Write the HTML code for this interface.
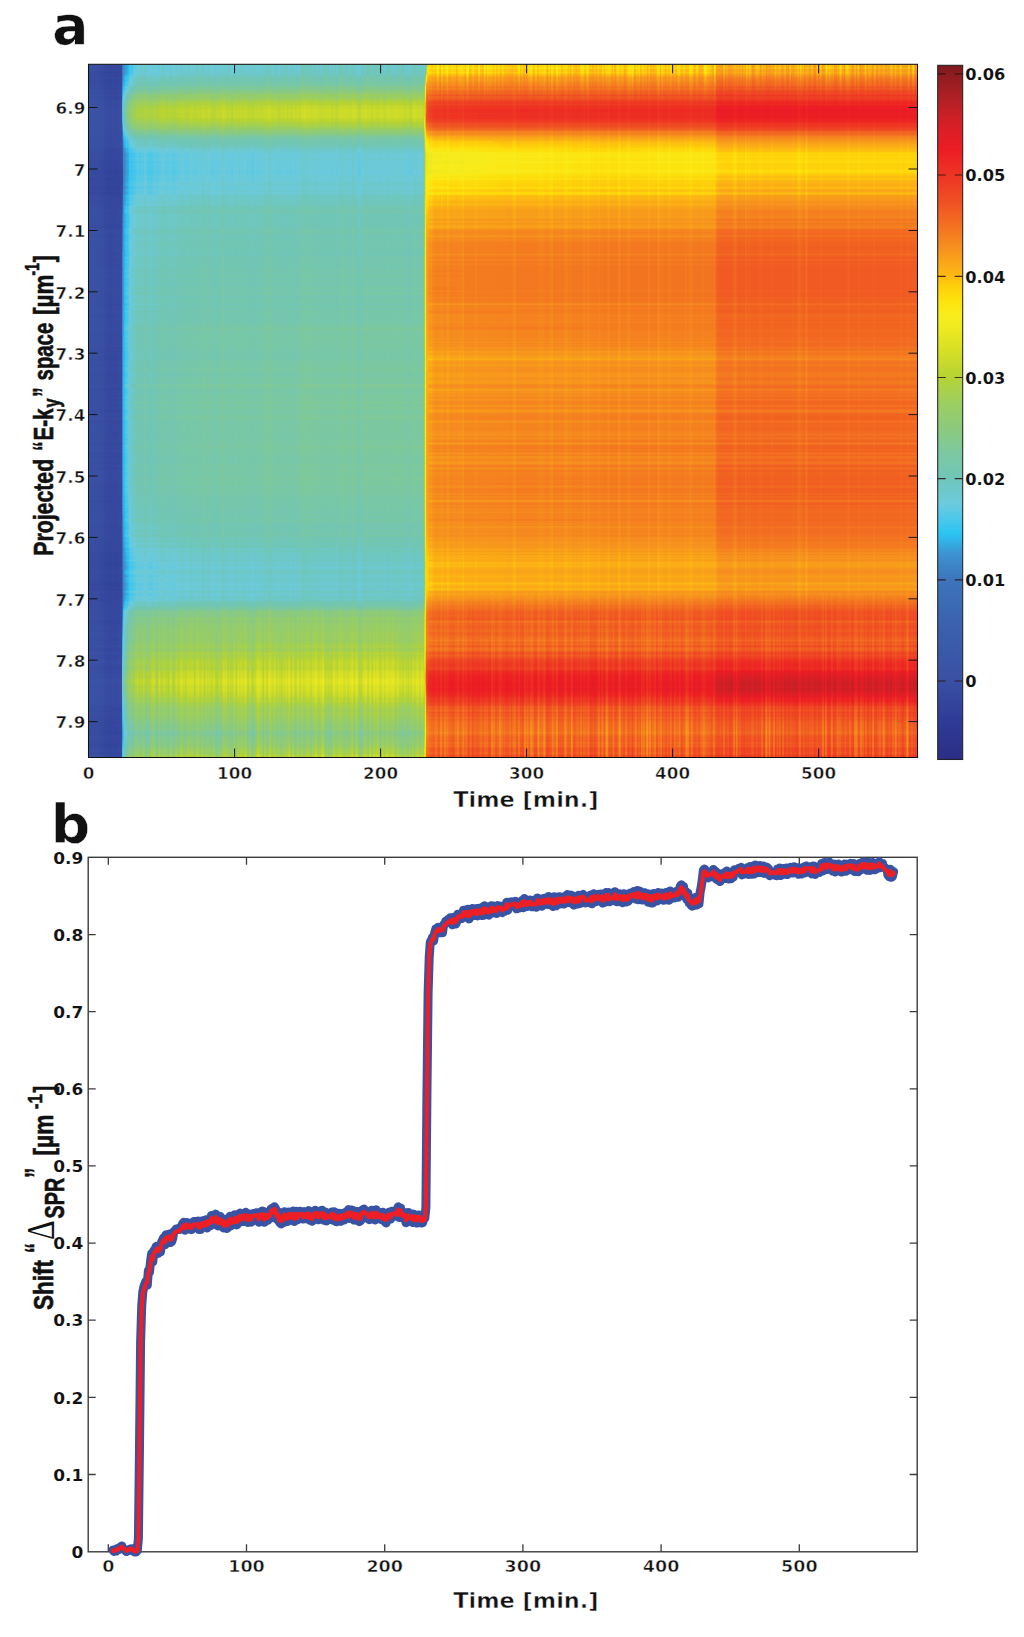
<!DOCTYPE html><html><head><meta charset="utf-8"><title>Figure</title><style>html,body{margin:0;padding:0;background:#fff}svg{display:block}</style></head><body><svg width="1024" height="1637" viewBox="0 0 1024 1637"><defs><linearGradient id="p1" x1="0" y1="0" x2="0" y2="1"><stop offset="0.0000" stop-color="#1d1d1d"/><stop offset="0.0087" stop-color="#1c1c1c"/><stop offset="0.0173" stop-color="#1a1a1a"/><stop offset="0.0260" stop-color="#1a1a1a"/><stop offset="0.0346" stop-color="#1c1c1c"/><stop offset="0.0433" stop-color="#1e1e1e"/><stop offset="0.0519" stop-color="#1f1f1f"/><stop offset="0.0606" stop-color="#1f1f1f"/><stop offset="0.0692" stop-color="#202020"/><stop offset="0.0952" stop-color="#202020"/><stop offset="0.1039" stop-color="#1f1f1f"/><stop offset="0.1125" stop-color="#1e1e1e"/><stop offset="0.1212" stop-color="#1d1d1d"/><stop offset="0.1298" stop-color="#1c1c1c"/><stop offset="0.1385" stop-color="#1b1b1b"/><stop offset="0.1471" stop-color="#1a1a1a"/><stop offset="0.1558" stop-color="#1a1a1a"/><stop offset="0.1645" stop-color="#191919"/><stop offset="0.1818" stop-color="#191919"/><stop offset="0.1904" stop-color="#1a1a1a"/><stop offset="0.1991" stop-color="#1b1b1b"/><stop offset="0.2077" stop-color="#1c1c1c"/><stop offset="0.2164" stop-color="#1d1d1d"/><stop offset="0.2337" stop-color="#1d1d1d"/><stop offset="0.2424" stop-color="#1e1e1e"/><stop offset="0.5972" stop-color="#1e1e1e"/><stop offset="0.6059" stop-color="#1d1d1d"/><stop offset="0.6665" stop-color="#1d1d1d"/><stop offset="0.6751" stop-color="#1c1c1c"/><stop offset="0.6838" stop-color="#1c1c1c"/><stop offset="0.6924" stop-color="#1b1b1b"/><stop offset="0.7011" stop-color="#1b1b1b"/><stop offset="0.7098" stop-color="#1a1a1a"/><stop offset="0.7444" stop-color="#1a1a1a"/><stop offset="0.7530" stop-color="#191919"/><stop offset="0.7617" stop-color="#1a1a1a"/><stop offset="0.7703" stop-color="#1a1a1a"/><stop offset="0.7790" stop-color="#1b1b1b"/><stop offset="0.7877" stop-color="#1c1c1c"/><stop offset="0.7963" stop-color="#1c1c1c"/><stop offset="0.8050" stop-color="#1d1d1d"/><stop offset="0.8136" stop-color="#1d1d1d"/><stop offset="0.8223" stop-color="#1e1e1e"/><stop offset="0.8829" stop-color="#1e1e1e"/><stop offset="0.8915" stop-color="#1f1f1f"/><stop offset="0.9175" stop-color="#1f1f1f"/><stop offset="0.9261" stop-color="#1e1e1e"/><stop offset="0.9348" stop-color="#1d1d1d"/><stop offset="0.9435" stop-color="#1c1c1c"/><stop offset="0.9521" stop-color="#1b1b1b"/><stop offset="0.9608" stop-color="#1a1a1a"/><stop offset="0.9694" stop-color="#1b1b1b"/><stop offset="0.9781" stop-color="#1b1b1b"/><stop offset="0.9867" stop-color="#1c1c1c"/><stop offset="0.9954" stop-color="#1d1d1d"/><stop offset="1.0012" stop-color="#1d1d1d"/></linearGradient><linearGradient id="p2" x1="0" y1="0" x2="0" y2="1"><stop offset="0.0000" stop-color="#646464"/><stop offset="0.0058" stop-color="#656565"/><stop offset="0.0115" stop-color="#676767"/><stop offset="0.0173" stop-color="#696969"/><stop offset="0.0231" stop-color="#6c6c6c"/><stop offset="0.0289" stop-color="#707070"/><stop offset="0.0346" stop-color="#767676"/><stop offset="0.0404" stop-color="#7d7d7d"/><stop offset="0.0462" stop-color="#858585"/><stop offset="0.0519" stop-color="#8b8b8b"/><stop offset="0.0577" stop-color="#909090"/><stop offset="0.0635" stop-color="#939393"/><stop offset="0.0692" stop-color="#959595"/><stop offset="0.0750" stop-color="#949494"/><stop offset="0.0808" stop-color="#919191"/><stop offset="0.0866" stop-color="#8c8c8c"/><stop offset="0.0923" stop-color="#848484"/><stop offset="0.0981" stop-color="#7c7c7c"/><stop offset="0.1039" stop-color="#737373"/><stop offset="0.1096" stop-color="#6c6c6c"/><stop offset="0.1154" stop-color="#686868"/><stop offset="0.1212" stop-color="#646464"/><stop offset="0.1269" stop-color="#636363"/><stop offset="0.1327" stop-color="#626262"/><stop offset="0.1385" stop-color="#616161"/><stop offset="0.1673" stop-color="#616161"/><stop offset="0.1731" stop-color="#626262"/><stop offset="0.1789" stop-color="#636363"/><stop offset="0.1847" stop-color="#646464"/><stop offset="0.1904" stop-color="#666666"/><stop offset="0.1962" stop-color="#676767"/><stop offset="0.2020" stop-color="#686868"/><stop offset="0.2077" stop-color="#696969"/><stop offset="0.2135" stop-color="#696969"/><stop offset="0.2193" stop-color="#6a6a6a"/><stop offset="0.2250" stop-color="#6a6a6a"/><stop offset="0.2308" stop-color="#6b6b6b"/><stop offset="0.2712" stop-color="#6b6b6b"/><stop offset="0.2770" stop-color="#6c6c6c"/><stop offset="0.3405" stop-color="#6c6c6c"/><stop offset="0.3462" stop-color="#6d6d6d"/><stop offset="0.3578" stop-color="#6d6d6d"/><stop offset="0.3635" stop-color="#6e6e6e"/><stop offset="0.3751" stop-color="#6e6e6e"/><stop offset="0.3808" stop-color="#6f6f6f"/><stop offset="0.3866" stop-color="#6f6f6f"/><stop offset="0.3924" stop-color="#707070"/><stop offset="0.4212" stop-color="#707070"/><stop offset="0.4270" stop-color="#717171"/><stop offset="0.4501" stop-color="#717171"/><stop offset="0.4559" stop-color="#727272"/><stop offset="0.6001" stop-color="#727272"/><stop offset="0.6059" stop-color="#717171"/><stop offset="0.6174" stop-color="#717171"/><stop offset="0.6232" stop-color="#707070"/><stop offset="0.6290" stop-color="#707070"/><stop offset="0.6347" stop-color="#6f6f6f"/><stop offset="0.6463" stop-color="#6f6f6f"/><stop offset="0.6520" stop-color="#6e6e6e"/><stop offset="0.6578" stop-color="#6e6e6e"/><stop offset="0.6636" stop-color="#6d6d6d"/><stop offset="0.6694" stop-color="#6c6c6c"/><stop offset="0.6751" stop-color="#6c6c6c"/><stop offset="0.6809" stop-color="#6b6b6b"/><stop offset="0.6867" stop-color="#6a6a6a"/><stop offset="0.6924" stop-color="#696969"/><stop offset="0.6982" stop-color="#686868"/><stop offset="0.7040" stop-color="#676767"/><stop offset="0.7098" stop-color="#666666"/><stop offset="0.7155" stop-color="#666666"/><stop offset="0.7213" stop-color="#656565"/><stop offset="0.7271" stop-color="#646464"/><stop offset="0.7675" stop-color="#646464"/><stop offset="0.7732" stop-color="#666666"/><stop offset="0.7790" stop-color="#6c6c6c"/><stop offset="0.7848" stop-color="#737373"/><stop offset="0.7905" stop-color="#7a7a7a"/><stop offset="0.7963" stop-color="#7e7e7e"/><stop offset="0.8021" stop-color="#808080"/><stop offset="0.8078" stop-color="#818181"/><stop offset="0.8136" stop-color="#838383"/><stop offset="0.8194" stop-color="#848484"/><stop offset="0.8252" stop-color="#868686"/><stop offset="0.8309" stop-color="#878787"/><stop offset="0.8367" stop-color="#898989"/><stop offset="0.8425" stop-color="#8b8b8b"/><stop offset="0.8482" stop-color="#8d8d8d"/><stop offset="0.8540" stop-color="#8f8f8f"/><stop offset="0.8598" stop-color="#909090"/><stop offset="0.8656" stop-color="#929292"/><stop offset="0.8713" stop-color="#949494"/><stop offset="0.8771" stop-color="#969696"/><stop offset="0.8829" stop-color="#979797"/><stop offset="0.8886" stop-color="#999999"/><stop offset="0.8944" stop-color="#9a9a9a"/><stop offset="0.9002" stop-color="#999999"/><stop offset="0.9059" stop-color="#969696"/><stop offset="0.9117" stop-color="#939393"/><stop offset="0.9175" stop-color="#909090"/><stop offset="0.9233" stop-color="#8d8d8d"/><stop offset="0.9290" stop-color="#8b8b8b"/><stop offset="0.9348" stop-color="#888888"/><stop offset="0.9406" stop-color="#868686"/><stop offset="0.9463" stop-color="#838383"/><stop offset="0.9521" stop-color="#808080"/><stop offset="0.9579" stop-color="#7d7d7d"/><stop offset="0.9636" stop-color="#7a7a7a"/><stop offset="0.9694" stop-color="#7a7a7a"/><stop offset="0.9752" stop-color="#7d7d7d"/><stop offset="0.9810" stop-color="#818181"/><stop offset="0.9867" stop-color="#858585"/><stop offset="0.9925" stop-color="#8a8a8a"/><stop offset="0.9983" stop-color="#8e8e8e"/><stop offset="1.0012" stop-color="#8f8f8f"/></linearGradient><linearGradient id="p3" x1="0" y1="0" x2="0" y2="1"><stop offset="0.0000" stop-color="#afafaf"/><stop offset="0.0058" stop-color="#b1b1b1"/><stop offset="0.0115" stop-color="#b4b4b4"/><stop offset="0.0173" stop-color="#b9b9b9"/><stop offset="0.0231" stop-color="#bdbdbd"/><stop offset="0.0289" stop-color="#c2c2c2"/><stop offset="0.0346" stop-color="#c6c6c6"/><stop offset="0.0404" stop-color="#cbcbcb"/><stop offset="0.0462" stop-color="#d0d0d0"/><stop offset="0.0519" stop-color="#d5d5d5"/><stop offset="0.0577" stop-color="#d8d8d8"/><stop offset="0.0635" stop-color="#dadada"/><stop offset="0.0692" stop-color="#dbdbdb"/><stop offset="0.0750" stop-color="#dadada"/><stop offset="0.0808" stop-color="#d8d8d8"/><stop offset="0.0866" stop-color="#d2d2d2"/><stop offset="0.0923" stop-color="#cbcbcb"/><stop offset="0.0981" stop-color="#c3c3c3"/><stop offset="0.1039" stop-color="#bbbbbb"/><stop offset="0.1096" stop-color="#b4b4b4"/><stop offset="0.1154" stop-color="#afafaf"/><stop offset="0.1212" stop-color="#acacac"/><stop offset="0.1269" stop-color="#aaaaaa"/><stop offset="0.1327" stop-color="#a8a8a8"/><stop offset="0.1443" stop-color="#a8a8a8"/><stop offset="0.1500" stop-color="#a9a9a9"/><stop offset="0.1558" stop-color="#aaaaaa"/><stop offset="0.1616" stop-color="#ababab"/><stop offset="0.1673" stop-color="#adadad"/><stop offset="0.1731" stop-color="#aeaeae"/><stop offset="0.1789" stop-color="#b0b0b0"/><stop offset="0.1847" stop-color="#b1b1b1"/><stop offset="0.1904" stop-color="#b3b3b3"/><stop offset="0.1962" stop-color="#b5b5b5"/><stop offset="0.2020" stop-color="#b6b6b6"/><stop offset="0.2077" stop-color="#b8b8b8"/><stop offset="0.2135" stop-color="#b9b9b9"/><stop offset="0.2193" stop-color="#bbbbbb"/><stop offset="0.2250" stop-color="#bcbcbc"/><stop offset="0.2308" stop-color="#bdbdbd"/><stop offset="0.2366" stop-color="#bebebe"/><stop offset="0.2424" stop-color="#bfbfbf"/><stop offset="0.2481" stop-color="#c0c0c0"/><stop offset="0.2539" stop-color="#c1c1c1"/><stop offset="0.2597" stop-color="#c2c2c2"/><stop offset="0.2654" stop-color="#c2c2c2"/><stop offset="0.2712" stop-color="#c3c3c3"/><stop offset="0.3405" stop-color="#c3c3c3"/><stop offset="0.3462" stop-color="#c2c2c2"/><stop offset="0.3635" stop-color="#c2c2c2"/><stop offset="0.3693" stop-color="#c1c1c1"/><stop offset="0.3808" stop-color="#c1c1c1"/><stop offset="0.3866" stop-color="#c0c0c0"/><stop offset="0.3982" stop-color="#c0c0c0"/><stop offset="0.4039" stop-color="#bfbfbf"/><stop offset="0.4097" stop-color="#bfbfbf"/><stop offset="0.4155" stop-color="#bebebe"/><stop offset="0.4212" stop-color="#bdbdbd"/><stop offset="0.4385" stop-color="#bdbdbd"/><stop offset="0.4443" stop-color="#bebebe"/><stop offset="0.4559" stop-color="#bebebe"/><stop offset="0.4616" stop-color="#bfbfbf"/><stop offset="0.4732" stop-color="#bfbfbf"/><stop offset="0.4789" stop-color="#c0c0c0"/><stop offset="0.4962" stop-color="#c0c0c0"/><stop offset="0.5020" stop-color="#c1c1c1"/><stop offset="0.5309" stop-color="#c1c1c1"/><stop offset="0.5366" stop-color="#c2c2c2"/><stop offset="0.6405" stop-color="#c2c2c2"/><stop offset="0.6463" stop-color="#c1c1c1"/><stop offset="0.6578" stop-color="#c1c1c1"/><stop offset="0.6636" stop-color="#c0c0c0"/><stop offset="0.6694" stop-color="#c0c0c0"/><stop offset="0.6751" stop-color="#bfbfbf"/><stop offset="0.6809" stop-color="#bebebe"/><stop offset="0.6867" stop-color="#bdbdbd"/><stop offset="0.6924" stop-color="#bcbcbc"/><stop offset="0.6982" stop-color="#bbbbbb"/><stop offset="0.7040" stop-color="#bababa"/><stop offset="0.7098" stop-color="#b9b9b9"/><stop offset="0.7155" stop-color="#b8b8b8"/><stop offset="0.7271" stop-color="#b8b8b8"/><stop offset="0.7328" stop-color="#b7b7b7"/><stop offset="0.7501" stop-color="#b7b7b7"/><stop offset="0.7559" stop-color="#b8b8b8"/><stop offset="0.7617" stop-color="#bababa"/><stop offset="0.7675" stop-color="#bcbcbc"/><stop offset="0.7732" stop-color="#c0c0c0"/><stop offset="0.7790" stop-color="#c4c4c4"/><stop offset="0.7848" stop-color="#c8c8c8"/><stop offset="0.7905" stop-color="#cbcbcb"/><stop offset="0.7963" stop-color="#cdcdcd"/><stop offset="0.8021" stop-color="#cdcdcd"/><stop offset="0.8078" stop-color="#cccccc"/><stop offset="0.8136" stop-color="#cbcbcb"/><stop offset="0.8367" stop-color="#cbcbcb"/><stop offset="0.8425" stop-color="#cdcdcd"/><stop offset="0.8482" stop-color="#d0d0d0"/><stop offset="0.8540" stop-color="#d2d2d2"/><stop offset="0.8598" stop-color="#d5d5d5"/><stop offset="0.8656" stop-color="#d8d8d8"/><stop offset="0.8713" stop-color="#dbdbdb"/><stop offset="0.8771" stop-color="#dedede"/><stop offset="0.8829" stop-color="#e1e1e1"/><stop offset="0.8886" stop-color="#e2e2e2"/><stop offset="0.8944" stop-color="#e4e4e4"/><stop offset="0.9002" stop-color="#e5e5e5"/><stop offset="0.9059" stop-color="#e2e2e2"/><stop offset="0.9117" stop-color="#dedede"/><stop offset="0.9175" stop-color="#dadada"/><stop offset="0.9233" stop-color="#d7d7d7"/><stop offset="0.9290" stop-color="#d3d3d3"/><stop offset="0.9348" stop-color="#d0d0d0"/><stop offset="0.9406" stop-color="#cdcdcd"/><stop offset="0.9463" stop-color="#cccccc"/><stop offset="0.9521" stop-color="#cacaca"/><stop offset="0.9579" stop-color="#c8c8c8"/><stop offset="0.9636" stop-color="#c8c8c8"/><stop offset="0.9694" stop-color="#cacaca"/><stop offset="0.9752" stop-color="#cbcbcb"/><stop offset="0.9810" stop-color="#cdcdcd"/><stop offset="0.9867" stop-color="#cfcfcf"/><stop offset="0.9925" stop-color="#d0d0d0"/><stop offset="0.9983" stop-color="#d2d2d2"/><stop offset="1.0012" stop-color="#d3d3d3"/></linearGradient><linearGradient id="p4" x1="0" y1="0" x2="0" y2="1"><stop offset="0.0000" stop-color="#b5b5b5"/><stop offset="0.0058" stop-color="#b8b8b8"/><stop offset="0.0115" stop-color="#bbbbbb"/><stop offset="0.0173" stop-color="#bfbfbf"/><stop offset="0.0231" stop-color="#c4c4c4"/><stop offset="0.0289" stop-color="#c8c8c8"/><stop offset="0.0346" stop-color="#cdcdcd"/><stop offset="0.0404" stop-color="#d2d2d2"/><stop offset="0.0462" stop-color="#d7d7d7"/><stop offset="0.0519" stop-color="#dbdbdb"/><stop offset="0.0577" stop-color="#dedede"/><stop offset="0.0635" stop-color="#e1e1e1"/><stop offset="0.0692" stop-color="#e2e2e2"/><stop offset="0.0750" stop-color="#e1e1e1"/><stop offset="0.0808" stop-color="#dedede"/><stop offset="0.0866" stop-color="#d9d9d9"/><stop offset="0.0923" stop-color="#d2d2d2"/><stop offset="0.0981" stop-color="#cacaca"/><stop offset="0.1039" stop-color="#c1c1c1"/><stop offset="0.1096" stop-color="#bbbbbb"/><stop offset="0.1154" stop-color="#b5b5b5"/><stop offset="0.1212" stop-color="#b2b2b2"/><stop offset="0.1269" stop-color="#b0b0b0"/><stop offset="0.1327" stop-color="#aeaeae"/><stop offset="0.1385" stop-color="#adadad"/><stop offset="0.1443" stop-color="#aeaeae"/><stop offset="0.1500" stop-color="#aeaeae"/><stop offset="0.1558" stop-color="#afafaf"/><stop offset="0.1616" stop-color="#b1b1b1"/><stop offset="0.1673" stop-color="#b2b2b2"/><stop offset="0.1731" stop-color="#b4b4b4"/><stop offset="0.1789" stop-color="#b6b6b6"/><stop offset="0.1847" stop-color="#b7b7b7"/><stop offset="0.1904" stop-color="#b9b9b9"/><stop offset="0.1962" stop-color="#bbbbbb"/><stop offset="0.2020" stop-color="#bdbdbd"/><stop offset="0.2077" stop-color="#bebebe"/><stop offset="0.2135" stop-color="#c0c0c0"/><stop offset="0.2193" stop-color="#c1c1c1"/><stop offset="0.2250" stop-color="#c3c3c3"/><stop offset="0.2308" stop-color="#c4c4c4"/><stop offset="0.2366" stop-color="#c5c5c5"/><stop offset="0.2424" stop-color="#c6c6c6"/><stop offset="0.2481" stop-color="#c7c7c7"/><stop offset="0.2539" stop-color="#c8c8c8"/><stop offset="0.2597" stop-color="#c8c8c8"/><stop offset="0.2654" stop-color="#c9c9c9"/><stop offset="0.2712" stop-color="#c9c9c9"/><stop offset="0.2770" stop-color="#cacaca"/><stop offset="0.3347" stop-color="#cacaca"/><stop offset="0.3405" stop-color="#c9c9c9"/><stop offset="0.3578" stop-color="#c9c9c9"/><stop offset="0.3635" stop-color="#c8c8c8"/><stop offset="0.3751" stop-color="#c8c8c8"/><stop offset="0.3808" stop-color="#c7c7c7"/><stop offset="0.3924" stop-color="#c7c7c7"/><stop offset="0.3982" stop-color="#c6c6c6"/><stop offset="0.4039" stop-color="#c6c6c6"/><stop offset="0.4097" stop-color="#c5c5c5"/><stop offset="0.4155" stop-color="#c5c5c5"/><stop offset="0.4212" stop-color="#c4c4c4"/><stop offset="0.4443" stop-color="#c4c4c4"/><stop offset="0.4501" stop-color="#c5c5c5"/><stop offset="0.4616" stop-color="#c5c5c5"/><stop offset="0.4674" stop-color="#c6c6c6"/><stop offset="0.4789" stop-color="#c6c6c6"/><stop offset="0.4847" stop-color="#c7c7c7"/><stop offset="0.5020" stop-color="#c7c7c7"/><stop offset="0.5078" stop-color="#c8c8c8"/><stop offset="0.5655" stop-color="#c8c8c8"/><stop offset="0.5713" stop-color="#c9c9c9"/><stop offset="0.6347" stop-color="#c9c9c9"/><stop offset="0.6405" stop-color="#c8c8c8"/><stop offset="0.6463" stop-color="#c8c8c8"/><stop offset="0.6520" stop-color="#c7c7c7"/><stop offset="0.6636" stop-color="#c7c7c7"/><stop offset="0.6694" stop-color="#c6c6c6"/><stop offset="0.6751" stop-color="#c5c5c5"/><stop offset="0.6809" stop-color="#c4c4c4"/><stop offset="0.6867" stop-color="#c3c3c3"/><stop offset="0.6924" stop-color="#c2c2c2"/><stop offset="0.6982" stop-color="#c1c1c1"/><stop offset="0.7040" stop-color="#bfbfbf"/><stop offset="0.7098" stop-color="#bebebe"/><stop offset="0.7155" stop-color="#bdbdbd"/><stop offset="0.7213" stop-color="#bcbcbc"/><stop offset="0.7328" stop-color="#bcbcbc"/><stop offset="0.7386" stop-color="#bbbbbb"/><stop offset="0.7501" stop-color="#bbbbbb"/><stop offset="0.7559" stop-color="#bcbcbc"/><stop offset="0.7617" stop-color="#bdbdbd"/><stop offset="0.7675" stop-color="#bfbfbf"/><stop offset="0.7732" stop-color="#c3c3c3"/><stop offset="0.7790" stop-color="#c7c7c7"/><stop offset="0.7848" stop-color="#cbcbcb"/><stop offset="0.7905" stop-color="#cecece"/><stop offset="0.7963" stop-color="#d0d0d0"/><stop offset="0.8021" stop-color="#cfcfcf"/><stop offset="0.8078" stop-color="#cfcfcf"/><stop offset="0.8136" stop-color="#cecece"/><stop offset="0.8367" stop-color="#cecece"/><stop offset="0.8425" stop-color="#d0d0d0"/><stop offset="0.8482" stop-color="#d3d3d3"/><stop offset="0.8540" stop-color="#d6d6d6"/><stop offset="0.8598" stop-color="#d9d9d9"/><stop offset="0.8656" stop-color="#dcdcdc"/><stop offset="0.8713" stop-color="#e0e0e0"/><stop offset="0.8771" stop-color="#e4e4e4"/><stop offset="0.8829" stop-color="#e8e8e8"/><stop offset="0.8886" stop-color="#ebebeb"/><stop offset="0.8944" stop-color="#ededed"/><stop offset="0.9002" stop-color="#eeeeee"/><stop offset="0.9059" stop-color="#eaeaea"/><stop offset="0.9117" stop-color="#e5e5e5"/><stop offset="0.9175" stop-color="#e0e0e0"/><stop offset="0.9233" stop-color="#dbdbdb"/><stop offset="0.9290" stop-color="#d7d7d7"/><stop offset="0.9348" stop-color="#d3d3d3"/><stop offset="0.9406" stop-color="#d1d1d1"/><stop offset="0.9463" stop-color="#cfcfcf"/><stop offset="0.9521" stop-color="#cdcdcd"/><stop offset="0.9579" stop-color="#cbcbcb"/><stop offset="0.9636" stop-color="#cbcbcb"/><stop offset="0.9694" stop-color="#cdcdcd"/><stop offset="0.9752" stop-color="#cecece"/><stop offset="0.9810" stop-color="#d0d0d0"/><stop offset="0.9867" stop-color="#d2d2d2"/><stop offset="0.9925" stop-color="#d3d3d3"/><stop offset="0.9983" stop-color="#d5d5d5"/><stop offset="1.0012" stop-color="#d6d6d6"/></linearGradient><linearGradient id="r1z"><stop offset="0.0000" stop-color="#000" stop-opacity="0.000"/><stop offset="0.3056" stop-color="#000" stop-opacity="0.000"/><stop offset="0.5556" stop-color="#000" stop-opacity="0.160"/><stop offset="0.7778" stop-color="#000" stop-opacity="0.180"/><stop offset="1.0000" stop-color="#000" stop-opacity="0.100"/></linearGradient><linearGradient id="rz"><stop offset="0.0000" stop-color="#1d1d1d" stop-opacity="0.459"/><stop offset="0.0033" stop-color="#1d1d1d" stop-opacity="0.398"/><stop offset="0.0082" stop-color="#1d1d1d" stop-opacity="0.325"/><stop offset="0.0148" stop-color="#1d1d1d" stop-opacity="0.253"/><stop offset="0.0230" stop-color="#1d1d1d" stop-opacity="0.191"/><stop offset="0.0362" stop-color="#1d1d1d" stop-opacity="0.134"/><stop offset="0.0526" stop-color="#1d1d1d" stop-opacity="0.099"/><stop offset="0.0789" stop-color="#1d1d1d" stop-opacity="0.076"/><stop offset="0.1184" stop-color="#1d1d1d" stop-opacity="0.061"/><stop offset="0.1743" stop-color="#1d1d1d" stop-opacity="0.047"/><stop offset="0.2566" stop-color="#1d1d1d" stop-opacity="0.033"/><stop offset="0.3882" stop-color="#1d1d1d" stop-opacity="0.019"/><stop offset="0.5855" stop-color="#1d1d1d" stop-opacity="0.008"/><stop offset="1.0000" stop-color="#1d1d1d" stop-opacity="0.001"/></linearGradient><linearGradient id="dz"><stop offset="0.0000" stop-color="#000" stop-opacity="0.092"/><stop offset="0.0052" stop-color="#000" stop-opacity="0.059"/><stop offset="0.0103" stop-color="#000" stop-opacity="0.040"/><stop offset="0.0172" stop-color="#000" stop-opacity="0.028"/><stop offset="0.0276" stop-color="#000" stop-opacity="0.020"/><stop offset="0.0414" stop-color="#000" stop-opacity="0.017"/><stop offset="0.0621" stop-color="#000" stop-opacity="0.016"/><stop offset="0.0897" stop-color="#000" stop-opacity="0.014"/><stop offset="0.1345" stop-color="#000" stop-opacity="0.013"/><stop offset="0.2034" stop-color="#000" stop-opacity="0.010"/><stop offset="0.3241" stop-color="#000" stop-opacity="0.007"/><stop offset="0.4966" stop-color="#000" stop-opacity="0.004"/><stop offset="0.7379" stop-color="#000" stop-opacity="0.001"/><stop offset="1.0000" stop-color="#000" stop-opacity="0.000"/></linearGradient><radialGradient id="bk"><stop offset="0" stop-color="#000" stop-opacity="0.018"/><stop offset="0.5" stop-color="#000" stop-opacity="0.010"/><stop offset="1" stop-color="#000" stop-opacity="0"/></radialGradient><radialGradient id="bw"><stop offset="0" stop-color="#fff" stop-opacity="0.050"/><stop offset="0.5" stop-color="#fff" stop-opacity="0.028"/><stop offset="1" stop-color="#fff" stop-opacity="0"/></radialGradient><linearGradient id="mb" gradientUnits="userSpaceOnUse" x1="0" y1="590" x2="0" y2="758"><stop offset="0.00" stop-color="#fff" stop-opacity="0.00"/><stop offset="0.12" stop-color="#fff" stop-opacity="0.25"/><stop offset="0.40" stop-color="#fff" stop-opacity="0.45"/><stop offset="0.75" stop-color="#fff" stop-opacity="0.70"/><stop offset="1.00" stop-color="#fff" stop-opacity="1.00"/></linearGradient><linearGradient id="mt" gradientUnits="userSpaceOnUse" x1="0" y1="64" x2="0" y2="110"><stop offset="0.00" stop-color="#fff" stop-opacity="1.00"/><stop offset="0.30" stop-color="#fff" stop-opacity="0.60"/><stop offset="0.60" stop-color="#fff" stop-opacity="0.20"/><stop offset="1.00" stop-color="#fff" stop-opacity="0.00"/></linearGradient><mask id="MB" maskUnits="userSpaceOnUse" x="88" y="590" width="830" height="168"><rect x="88" y="590" width="830" height="168" fill="url(#mb)"/></mask><mask id="MT" maskUnits="userSpaceOnUse" x="88" y="64" width="830" height="46"><rect x="88" y="64" width="830" height="46" fill="url(#mt)"/></mask><filter id="cm" filterUnits="userSpaceOnUse" x="80" y="56" width="846" height="710" color-interpolation-filters="sRGB"><feComponentTransfer><feFuncR type="table" tableValues="0.169 0.17 0.172 0.173 0.175 0.176 0.178 0.179 0.183 0.189 0.195 0.2 0.206 0.212 0.218 0.224 0.228 0.228 0.228 0.229 0.229 0.23 0.23 0.23 0.231 0.231 0.232 0.232 0.232 0.233 0.233 0.234 0.234 0.234 0.235 0.235 0.236 0.236 0.237 0.238 0.239 0.231 0.213 0.196 0.178 0.188 0.231 0.274 0.316 0.359 0.401 0.425 0.427 0.429 0.432 0.434 0.44 0.45 0.461 0.471 0.481 0.492 0.505 0.518 0.53 0.543 0.556 0.569 0.582 0.596 0.609 0.625 0.644 0.663 0.682 0.701 0.723 0.748 0.773 0.798 0.823 0.846 0.867 0.889 0.91 0.931 0.949 0.964 0.977 0.983 0.989 0.994 0.996 0.999 0.998 0.994 0.99 0.985 0.98 0.975 0.971 0.967 0.964 0.961 0.957 0.954 0.952 0.949 0.947 0.945 0.942 0.94 0.939 0.937 0.936 0.934 0.933 0.932 0.931 0.931 0.93 0.919 0.901 0.883 0.865 0.847 0.822 0.792 0.762 0.732 0.702 0.674 0.645 0.617 0.589 0.56 0.527 0.49"/><feFuncG type="table" tableValues="0.18 0.187 0.194 0.201 0.207 0.214 0.221 0.227 0.236 0.246 0.256 0.267 0.277 0.287 0.297 0.308 0.316 0.322 0.328 0.334 0.34 0.346 0.352 0.357 0.363 0.369 0.376 0.385 0.394 0.402 0.411 0.42 0.428 0.437 0.445 0.454 0.469 0.492 0.515 0.537 0.56 0.595 0.644 0.693 0.742 0.771 0.775 0.78 0.785 0.789 0.794 0.794 0.79 0.786 0.782 0.779 0.777 0.779 0.78 0.782 0.784 0.785 0.787 0.788 0.79 0.791 0.794 0.798 0.802 0.806 0.81 0.813 0.816 0.82 0.823 0.826 0.832 0.842 0.851 0.861 0.87 0.879 0.888 0.896 0.905 0.914 0.919 0.923 0.924 0.91 0.897 0.876 0.85 0.824 0.789 0.745 0.71 0.681 0.652 0.623 0.594 0.565 0.537 0.508 0.48 0.452 0.424 0.398 0.371 0.344 0.318 0.294 0.274 0.254 0.233 0.213 0.193 0.174 0.156 0.137 0.118 0.111 0.114 0.116 0.118 0.121 0.122 0.123 0.124 0.124 0.125 0.124 0.12 0.117 0.114 0.111 0.107 0.102"/><feFuncB type="table" tableValues="0.514 0.524 0.534 0.545 0.555 0.565 0.576 0.586 0.595 0.6 0.606 0.612 0.618 0.624 0.63 0.636 0.641 0.645 0.649 0.653 0.657 0.661 0.664 0.668 0.672 0.676 0.681 0.686 0.692 0.697 0.703 0.708 0.714 0.719 0.725 0.73 0.741 0.757 0.774 0.79 0.807 0.831 0.866 0.9 0.935 0.947 0.933 0.919 0.905 0.892 0.878 0.856 0.827 0.797 0.767 0.737 0.713 0.694 0.675 0.656 0.637 0.614 0.585 0.557 0.529 0.501 0.475 0.452 0.429 0.407 0.384 0.356 0.322 0.288 0.254 0.22 0.198 0.187 0.176 0.165 0.154 0.146 0.141 0.135 0.13 0.124 0.119 0.114 0.107 0.083 0.058 0.046 0.043 0.04 0.049 0.066 0.079 0.088 0.096 0.105 0.114 0.119 0.121 0.124 0.126 0.128 0.13 0.132 0.133 0.135 0.137 0.138 0.138 0.139 0.14 0.141 0.141 0.141 0.141 0.141 0.141 0.143 0.145 0.147 0.15 0.152 0.152 0.15 0.149 0.147 0.146 0.142 0.138 0.133 0.128 0.123 0.117 0.11"/></feComponentTransfer></filter><clipPath id="hc"><rect x="88.5" y="64.3" width="829.0" height="693.2"/></clipPath><linearGradient id="cb" x1="0" y1="0" x2="0" y2="1"><stop offset="0.0000" stop-color="#7d1a1c"/><stop offset="0.0117" stop-color="#8c1c1f"/><stop offset="0.0481" stop-color="#b02025"/><stop offset="0.0845" stop-color="#d61f27"/><stop offset="0.1210" stop-color="#ed1c24"/><stop offset="0.1574" stop-color="#ee3424"/><stop offset="0.1939" stop-color="#f04e23"/><stop offset="0.2303" stop-color="#f37021"/><stop offset="0.2668" stop-color="#f7941e"/><stop offset="0.3032" stop-color="#fdb913"/><stop offset="0.3178" stop-color="#ffcf0a"/><stop offset="0.3397" stop-color="#fde30c"/><stop offset="0.3586" stop-color="#f9ec1c"/><stop offset="0.3761" stop-color="#f0ea1f"/><stop offset="0.4125" stop-color="#d5df26"/><stop offset="0.4490" stop-color="#b5d334"/><stop offset="0.4854" stop-color="#9dcf5f"/><stop offset="0.5219" stop-color="#8cca7c"/><stop offset="0.5583" stop-color="#7cc8a0"/><stop offset="0.5948" stop-color="#6fc6b8"/><stop offset="0.6312" stop-color="#6ccbde"/><stop offset="0.6749" stop-color="#2bc4f3"/><stop offset="0.7041" stop-color="#3d92d0"/><stop offset="0.7405" stop-color="#3c75bb"/><stop offset="0.8134" stop-color="#3b5fad"/><stop offset="0.8863" stop-color="#3a50a3"/><stop offset="0.9446" stop-color="#2e3b97"/><stop offset="1.0000" stop-color="#2b2e83"/></linearGradient></defs><rect width="1024" height="1637" fill="#fff"/><g clip-path="url(#hc)"><g filter="url(#cm)"><rect x="80" y="56" width="846" height="710" fill="#b2b2b2"/><rect x="88.5" y="64.3" width="40.0" height="693.2" fill="url(#p1)"/><rect x="88" y="64.3" width="36" height="693.2" fill="url(#r1z)"/><path d="M430.0 64.3L122.2 64.3L122.2 76.3L122.2 88.3L122.3 100.3L122.3 112.3L122.4 124.3L122.6 136.3L122.8 148.3L122.9 160.3L123.0 172.3L123.0 184.3L122.8 196.3L122.7 208.3L122.5 220.3L122.4 232.3L122.3 244.3L122.2 256.3L122.2 268.3L122.2 280.3L122.2 292.3L122.2 304.3L122.2 316.3L122.2 328.3L122.2 340.3L122.2 352.3L122.2 364.3L122.2 376.3L122.2 388.3L122.2 400.3L122.2 412.3L122.2 424.3L122.2 436.3L122.2 448.3L122.2 460.3L122.2 472.3L122.2 484.3L122.2 496.3L122.2 508.3L122.3 520.3L122.3 532.3L122.4 544.3L122.5 556.3L122.5 568.3L122.6 580.3L122.6 592.3L122.6 604.3L122.5 616.3L122.4 628.3L122.3 640.3L122.3 652.3L122.2 664.3L122.2 676.3L122.2 688.3L122.2 700.3L122.2 712.3L122.2 724.3L122.2 736.3L122.2 748.3L122.2 757.5L430.0 757.5Z" fill="url(#p2)"/><path d="M426.0 64.3L122.2 64.3L122.2 76.3L122.2 88.3L122.3 100.3L122.3 112.3L122.4 124.3L122.6 136.3L122.8 148.3L122.9 160.3L123.0 172.3L123.0 184.3L122.8 196.3L122.7 208.3L122.5 220.3L122.4 232.3L122.3 244.3L122.2 256.3L122.2 268.3L122.2 280.3L122.2 292.3L122.2 304.3L122.2 316.3L122.2 328.3L122.2 340.3L122.2 352.3L122.2 364.3L122.2 376.3L122.2 388.3L122.2 400.3L122.2 412.3L122.2 424.3L122.2 436.3L122.2 448.3L122.2 460.3L122.2 472.3L122.2 484.3L122.2 496.3L122.2 508.3L122.3 520.3L122.3 532.3L122.4 544.3L122.5 556.3L122.5 568.3L122.6 580.3L122.6 592.3L122.6 604.3L122.5 616.3L122.4 628.3L122.3 640.3L122.3 652.3L122.2 664.3L122.2 676.3L122.2 688.3L122.2 700.3L122.2 712.3L122.2 724.3L122.2 736.3L122.2 748.3L122.2 757.5L426.0 757.5Z" fill="url(#rz)"/><path d="M720.0 64.3L426.6 64.3L425.4 76.3L424.5 88.3L424.9 100.3L425.1 112.3L424.4 124.3L424.2 136.3L424.0 148.3L423.9 160.3L423.9 172.3L424.1 184.3L424.2 196.3L424.3 208.3L424.4 220.3L424.4 232.3L424.4 244.3L424.4 256.3L424.4 268.3L424.4 280.3L424.4 292.3L424.4 304.3L424.4 316.3L424.4 328.3L424.4 340.3L424.4 352.3L424.4 364.3L424.4 376.3L424.4 388.3L424.4 400.3L424.4 412.3L424.4 424.3L424.4 436.3L424.4 448.3L424.4 460.3L424.4 472.3L424.4 484.3L424.4 496.3L424.4 508.3L424.4 520.3L424.4 532.3L424.4 544.3L424.4 556.3L424.4 568.3L424.4 580.3L424.4 592.3L424.4 604.3L424.4 616.3L424.4 628.3L424.4 640.3L424.5 652.3L424.7 664.3L425.0 676.3L425.2 688.3L425.1 700.3L424.8 712.3L424.5 724.3L424.4 736.3L424.4 748.3L424.4 757.5L720.0 757.5Z" fill="url(#p3)" opacity="0.5"/><path d="M720.0 64.3L427.8 64.3L426.6 76.3L425.7 88.3L426.1 100.3L426.3 112.3L425.6 124.3L425.4 136.3L425.2 148.3L425.1 160.3L425.1 172.3L425.3 184.3L425.4 196.3L425.5 208.3L425.6 220.3L425.6 232.3L425.6 244.3L425.6 256.3L425.6 268.3L425.6 280.3L425.6 292.3L425.6 304.3L425.6 316.3L425.6 328.3L425.6 340.3L425.6 352.3L425.6 364.3L425.6 376.3L425.6 388.3L425.6 400.3L425.6 412.3L425.6 424.3L425.6 436.3L425.6 448.3L425.6 460.3L425.6 472.3L425.6 484.3L425.6 496.3L425.6 508.3L425.6 520.3L425.6 532.3L425.6 544.3L425.6 556.3L425.6 568.3L425.6 580.3L425.6 592.3L425.6 604.3L425.6 616.3L425.6 628.3L425.6 640.3L425.7 652.3L425.9 664.3L426.2 676.3L426.4 688.3L426.3 700.3L426.0 712.3L425.7 724.3L425.6 736.3L425.6 748.3L425.6 757.5L720.0 757.5Z" fill="url(#p3)"/><path d="M716.0 64.3L427.8 64.3L426.6 76.3L425.7 88.3L426.1 100.3L426.3 112.3L425.6 124.3L425.4 136.3L425.2 148.3L425.1 160.3L425.1 172.3L425.3 184.3L425.4 196.3L425.5 208.3L425.6 220.3L425.6 232.3L425.6 244.3L425.6 256.3L425.6 268.3L425.6 280.3L425.6 292.3L425.6 304.3L425.6 316.3L425.6 328.3L425.6 340.3L425.6 352.3L425.6 364.3L425.6 376.3L425.6 388.3L425.6 400.3L425.6 412.3L425.6 424.3L425.6 436.3L425.6 448.3L425.6 460.3L425.6 472.3L425.6 484.3L425.6 496.3L425.6 508.3L425.6 520.3L425.6 532.3L425.6 544.3L425.6 556.3L425.6 568.3L425.6 580.3L425.6 592.3L425.6 604.3L425.6 616.3L425.6 628.3L425.6 640.3L425.7 652.3L425.9 664.3L426.2 676.3L426.4 688.3L426.3 700.3L426.0 712.3L425.7 724.3L425.6 736.3L425.6 748.3L425.6 757.5L716.0 757.5Z" fill="url(#dz)"/><rect x="715.0" y="64.3" width="1.2" height="693.2" fill="url(#p4)" opacity="0.5"/><rect x="715.7" y="64.3" width="202.8" height="693.2" fill="url(#p4)"/><ellipse cx="455" cy="164" rx="70" ry="34" fill="url(#bk)"/><ellipse cx="600" cy="166" rx="80" ry="26" fill="url(#bw)" opacity="0.5"/><g fill="none" stroke-width="1"><path d="M428 65.0H918M428 67.0H918M428 77.0H918M428 81.0H918M428 109.0H918M428 111.0H918M428 115.0H918M428 117.0H918M428 118.0H918M428 119.0H918M428 126.0H918M428 136.0H918M428 139.0H918M428 141.0H918M428 143.0H918M428 145.0H918M428 149.0H918M428 150.0H918M428 151.0H918M428 164.0H918M428 178.0H918M428 182.0H918M428 197.0H918M428 202.0H918M428 206.0H918M428 216.0H918M428 224.0H918M428 233.0H918M428 234.0H918M428 235.0H918M428 242.0H918M428 245.0H918M428 246.0H918M428 247.0H918M428 248.0H918M428 257.0H918M428 259.0H918M428 266.0H918M428 267.0H918M428 269.0H918M428 270.0H918M428 273.0H918M428 280.0H918M428 285.0H918M428 287.0H918M428 303.0H918M428 306.0H918M428 310.0H918M428 311.0H918M428 313.0H918M428 318.0H918M428 327.0H918M428 333.0H918M428 335.0H918M428 345.0H918M428 346.0H918M428 355.0H918M428 363.0H918M428 378.0H918M428 402.0H918M428 404.0H918M428 407.0H918M428 417.0H918M428 419.0H918M428 420.0H918M428 431.0H918M428 471.0H918M428 484.0H918M428 492.0H918M428 507.0H918M428 526.0H918M428 530.0H918M428 532.0H918M428 534.0H918M428 537.0H918M428 540.0H918M428 542.0H918M428 544.0H918M428 555.0H918M428 574.0H918M428 579.0H918M428 580.0H918M428 581.0H918M428 588.0H918M428 595.0H918M428 596.0H918M428 600.0H918M428 601.0H918M428 627.0H918M428 635.0H918M428 665.0H918M428 673.0H918M428 676.0H918M428 678.0H918M428 694.0H918M428 696.0H918M428 712.0H918M428 713.0H918M428 716.0H918M428 722.0H918M428 730.0H918M428 737.0H918M428 739.0H918M428 740.0H918M428 741.0H918M428 742.0H918M428 755.0H918" stroke="#fff" stroke-opacity="0.011"/><path d="M428 68.0H918M428 97.0H918M428 98.0H918M428 100.0H918M428 124.0H918M428 132.0H918M428 188.0H918M428 193.0H918M428 194.0H918M428 228.0H918M428 304.0H918M428 356.0H918M428 359.0H918M428 360.0H918M428 382.0H918M428 390.0H918M428 406.0H918M428 410.0H918M428 412.0H918M428 434.0H918M428 438.0H918M428 443.0H918M428 444.0H918M428 457.0H918M428 462.0H918M428 464.0H918M428 501.0H918M428 527.0H918M428 564.0H918M428 566.0H918M428 583.0H918M428 589.0H918M428 621.0H918M428 622.0H918M428 640.0H918M428 641.0H918M428 644.0H918M428 648.0H918M428 649.0H918M428 650.0H918M428 651.0H918M428 655.0H918M428 669.0H918M428 707.0H918M428 708.0H918M428 710.0H918M428 711.0H918M428 733.0H918M428 743.0H918" stroke="#000" stroke-opacity="0.025"/><path d="M428 70.0H918M428 74.0H918M428 75.0H918M428 85.0H918M428 90.0H918M428 92.0H918M428 93.0H918M428 102.0H918M428 104.0H918M428 108.0H918M428 113.0H918M428 114.0H918M428 120.0H918M428 122.0H918M428 137.0H918M428 154.0H918M428 155.0H918M428 156.0H918M428 157.0H918M428 160.0H918M428 163.0H918M428 166.0H918M428 168.0H918M428 175.0H918M428 187.0H918M428 189.0H918M428 192.0H918M428 195.0H918M428 198.0H918M428 200.0H918M428 204.0H918M428 205.0H918M428 215.0H918M428 218.0H918M428 221.0H918M428 223.0H918M428 237.0H918M428 240.0H918M428 251.0H918M428 255.0H918M428 256.0H918M428 264.0H918M428 291.0H918M428 298.0H918M428 305.0H918M428 308.0H918M428 314.0H918M428 319.0H918M428 322.0H918M428 331.0H918M428 339.0H918M428 342.0H918M428 353.0H918M428 354.0H918M428 357.0H918M428 362.0H918M428 366.0H918M428 374.0H918M428 376.0H918M428 383.0H918M428 391.0H918M428 392.0H918M428 393.0H918M428 394.0H918M428 399.0H918M428 414.0H918M428 423.0H918M428 425.0H918M428 427.0H918M428 430.0H918M428 435.0H918M428 439.0H918M428 440.0H918M428 450.0H918M428 456.0H918M428 459.0H918M428 460.0H918M428 461.0H918M428 473.0H918M428 474.0H918M428 476.0H918M428 481.0H918M428 486.0H918M428 511.0H918M428 512.0H918M428 513.0H918M428 516.0H918M428 518.0H918M428 522.0H918M428 524.0H918M428 529.0H918M428 538.0H918M428 543.0H918M428 549.0H918M428 550.0H918M428 558.0H918M428 559.0H918M428 563.0H918M428 567.0H918M428 568.0H918M428 576.0H918M428 577.0H918M428 584.0H918M428 587.0H918M428 594.0H918M428 604.0H918M428 607.0H918M428 609.0H918M428 615.0H918M428 616.0H918M428 617.0H918M428 629.0H918M428 636.0H918M428 637.0H918M428 639.0H918M428 642.0H918M428 652.0H918M428 657.0H918M428 686.0H918M428 687.0H918M428 688.0H918M428 693.0H918M428 698.0H918M428 699.0H918M428 703.0H918M428 704.0H918M428 705.0H918M428 709.0H918M428 714.0H918M428 721.0H918M428 725.0H918M428 727.0H918M428 731.0H918M428 735.0H918M428 750.0H918M428 752.0H918" stroke="#000" stroke-opacity="0.008"/><path d="M428 72.0H918M428 73.0H918M428 89.0H918M428 94.0H918M428 99.0H918M428 105.0H918M428 153.0H918M428 162.0H918M428 170.0H918M428 171.0H918M428 172.0H918M428 173.0H918M428 179.0H918M428 217.0H918M428 222.0H918M428 225.0H918M428 226.0H918M428 227.0H918M428 236.0H918M428 254.0H918M428 260.0H918M428 316.0H918M428 348.0H918M428 351.0H918M428 352.0H918M428 358.0H918M428 365.0H918M428 373.0H918M428 375.0H918M428 377.0H918M428 380.0H918M428 384.0H918M428 389.0H918M428 396.0H918M428 400.0H918M428 411.0H918M428 421.0H918M428 422.0H918M428 432.0H918M428 436.0H918M428 453.0H918M428 454.0H918M428 458.0H918M428 463.0H918M428 468.0H918M428 469.0H918M428 487.0H918M428 494.0H918M428 497.0H918M428 500.0H918M428 502.0H918M428 506.0H918M428 509.0H918M428 553.0H918M428 556.0H918M428 562.0H918M428 585.0H918M428 590.0H918M428 623.0H918M428 625.0H918M428 631.0H918M428 638.0H918M428 656.0H918M428 658.0H918M428 667.0H918M428 668.0H918M428 670.0H918M428 706.0H918M428 718.0H918M428 723.0H918M428 745.0H918M428 746.0H918M428 747.0H918M428 753.0H918M428 754.0H918" stroke="#000" stroke-opacity="0.015"/><path d="M428 76.0H918M428 83.0H918M428 87.0H918M428 106.0H918M428 112.0H918M428 121.0H918M428 128.0H918M428 134.0H918M428 138.0H918M428 142.0H918M428 184.0H918M428 196.0H918M428 207.0H918M428 208.0H918M428 210.0H918M428 212.0H918M428 213.0H918M428 229.0H918M428 243.0H918M428 258.0H918M428 261.0H918M428 278.0H918M428 281.0H918M428 286.0H918M428 292.0H918M428 294.0H918M428 295.0H918M428 299.0H918M428 301.0H918M428 302.0H918M428 307.0H918M428 315.0H918M428 323.0H918M428 326.0H918M428 329.0H918M428 332.0H918M428 337.0H918M428 341.0H918M428 368.0H918M428 387.0H918M428 398.0H918M428 403.0H918M428 408.0H918M428 418.0H918M428 446.0H918M428 485.0H918M428 531.0H918M428 535.0H918M428 541.0H918M428 546.0H918M428 551.0H918M428 560.0H918M428 573.0H918M428 578.0H918M428 597.0H918M428 602.0H918M428 611.0H918M428 612.0H918M428 618.0H918M428 624.0H918M428 630.0H918M428 653.0H918M428 661.0H918M428 677.0H918M428 684.0H918M428 700.0H918M428 724.0H918M428 728.0H918M428 729.0H918" stroke="#fff" stroke-opacity="0.022"/><path d="M428 78.0H918M428 144.0H918M428 146.0H918M428 147.0H918M428 211.0H918M428 232.0H918M428 271.0H918M428 276.0H918M428 288.0H918M428 290.0H918M428 293.0H918M428 312.0H918M428 328.0H918M428 330.0H918M428 385.0H918M428 520.0H918M428 536.0H918M428 572.0H918M428 592.0H918M428 603.0H918M428 654.0H918M428 662.0H918M428 675.0H918M428 679.0H918M428 680.0H918M428 681.0H918M428 682.0H918M428 683.0H918M428 738.0H918M428 756.0H918" stroke="#fff" stroke-opacity="0.036"/><path d="M124 65.0H426M124 67.0H426M124 77.0H426M124 81.0H426M124 109.0H426M124 111.0H426M124 115.0H426M124 117.0H426M124 118.0H426M124 119.0H426M124 126.0H426M124 136.0H426M124 139.0H426M124 141.0H426M124 143.0H426M124 145.0H426M124 149.0H426M124 150.0H426M124 151.0H426M124 164.0H426M124 178.0H426M124 182.0H426M124 197.0H426M124 202.0H426M124 206.0H426M124 216.0H426M124 224.0H426M124 233.0H426M124 234.0H426M124 235.0H426M124 242.0H426M124 245.0H426M124 246.0H426M124 247.0H426M124 248.0H426M124 257.0H426M124 259.0H426M124 266.0H426M124 267.0H426M124 269.0H426M124 270.0H426M124 273.0H426M124 280.0H426M124 285.0H426M124 287.0H426M124 303.0H426M124 306.0H426M124 310.0H426M124 311.0H426M124 313.0H426M124 318.0H426M124 327.0H426M124 333.0H426M124 335.0H426M124 345.0H426M124 346.0H426M124 355.0H426M124 363.0H426M124 378.0H426M124 402.0H426M124 404.0H426M124 407.0H426M124 417.0H426M124 419.0H426M124 420.0H426M124 431.0H426M124 471.0H426M124 484.0H426M124 492.0H426M124 507.0H426M124 526.0H426M124 530.0H426M124 532.0H426M124 534.0H426M124 537.0H426M124 540.0H426M124 542.0H426M124 544.0H426M124 555.0H426M124 574.0H426M124 579.0H426M124 580.0H426M124 581.0H426M124 588.0H426M124 595.0H426M124 596.0H426M124 600.0H426M124 601.0H426M124 627.0H426M124 635.0H426M124 665.0H426M124 673.0H426M124 676.0H426M124 678.0H426M124 694.0H426M124 696.0H426M124 712.0H426M124 713.0H426M124 716.0H426M124 722.0H426M124 730.0H426M124 737.0H426M124 739.0H426M124 740.0H426M124 741.0H426M124 742.0H426M124 755.0H426" stroke="#fff" stroke-opacity="0.010"/><path d="M124 68.0H426M124 97.0H426M124 98.0H426M124 100.0H426M124 124.0H426M124 132.0H426M124 188.0H426M124 193.0H426M124 194.0H426M124 228.0H426M124 304.0H426M124 356.0H426M124 359.0H426M124 360.0H426M124 382.0H426M124 390.0H426M124 406.0H426M124 410.0H426M124 412.0H426M124 434.0H426M124 438.0H426M124 443.0H426M124 444.0H426M124 457.0H426M124 462.0H426M124 464.0H426M124 501.0H426M124 527.0H426M124 564.0H426M124 566.0H426M124 583.0H426M124 589.0H426M124 621.0H426M124 622.0H426M124 640.0H426M124 641.0H426M124 644.0H426M124 648.0H426M124 649.0H426M124 650.0H426M124 651.0H426M124 655.0H426M124 669.0H426M124 707.0H426M124 708.0H426M124 710.0H426M124 711.0H426M124 733.0H426M124 743.0H426" stroke="#000" stroke-opacity="0.021"/><path d="M124 70.0H426M124 74.0H426M124 75.0H426M124 85.0H426M124 90.0H426M124 92.0H426M124 93.0H426M124 102.0H426M124 104.0H426M124 108.0H426M124 113.0H426M124 114.0H426M124 120.0H426M124 122.0H426M124 137.0H426M124 154.0H426M124 155.0H426M124 156.0H426M124 157.0H426M124 160.0H426M124 163.0H426M124 166.0H426M124 168.0H426M124 175.0H426M124 187.0H426M124 189.0H426M124 192.0H426M124 195.0H426M124 198.0H426M124 200.0H426M124 204.0H426M124 205.0H426M124 215.0H426M124 218.0H426M124 221.0H426M124 223.0H426M124 237.0H426M124 240.0H426M124 251.0H426M124 255.0H426M124 256.0H426M124 264.0H426M124 291.0H426M124 298.0H426M124 305.0H426M124 308.0H426M124 314.0H426M124 319.0H426M124 322.0H426M124 331.0H426M124 339.0H426M124 342.0H426M124 353.0H426M124 354.0H426M124 357.0H426M124 362.0H426M124 366.0H426M124 374.0H426M124 376.0H426M124 383.0H426M124 391.0H426M124 392.0H426M124 393.0H426M124 394.0H426M124 399.0H426M124 414.0H426M124 423.0H426M124 425.0H426M124 427.0H426M124 430.0H426M124 435.0H426M124 439.0H426M124 440.0H426M124 450.0H426M124 456.0H426M124 459.0H426M124 460.0H426M124 461.0H426M124 473.0H426M124 474.0H426M124 476.0H426M124 481.0H426M124 486.0H426M124 511.0H426M124 512.0H426M124 513.0H426M124 516.0H426M124 518.0H426M124 522.0H426M124 524.0H426M124 529.0H426M124 538.0H426M124 543.0H426M124 549.0H426M124 550.0H426M124 558.0H426M124 559.0H426M124 563.0H426M124 567.0H426M124 568.0H426M124 576.0H426M124 577.0H426M124 584.0H426M124 587.0H426M124 594.0H426M124 604.0H426M124 607.0H426M124 609.0H426M124 615.0H426M124 616.0H426M124 617.0H426M124 629.0H426M124 636.0H426M124 637.0H426M124 639.0H426M124 642.0H426M124 652.0H426M124 657.0H426M124 686.0H426M124 687.0H426M124 688.0H426M124 693.0H426M124 698.0H426M124 699.0H426M124 703.0H426M124 704.0H426M124 705.0H426M124 709.0H426M124 714.0H426M124 721.0H426M124 725.0H426M124 727.0H426M124 731.0H426M124 735.0H426M124 750.0H426M124 752.0H426" stroke="#000" stroke-opacity="0.007"/><path d="M124 72.0H426M124 73.0H426M124 89.0H426M124 94.0H426M124 99.0H426M124 105.0H426M124 153.0H426M124 162.0H426M124 170.0H426M124 171.0H426M124 172.0H426M124 173.0H426M124 179.0H426M124 217.0H426M124 222.0H426M124 225.0H426M124 226.0H426M124 227.0H426M124 236.0H426M124 254.0H426M124 260.0H426M124 316.0H426M124 348.0H426M124 351.0H426M124 352.0H426M124 358.0H426M124 365.0H426M124 373.0H426M124 375.0H426M124 377.0H426M124 380.0H426M124 384.0H426M124 389.0H426M124 396.0H426M124 400.0H426M124 411.0H426M124 421.0H426M124 422.0H426M124 432.0H426M124 436.0H426M124 453.0H426M124 454.0H426M124 458.0H426M124 463.0H426M124 468.0H426M124 469.0H426M124 487.0H426M124 494.0H426M124 497.0H426M124 500.0H426M124 502.0H426M124 506.0H426M124 509.0H426M124 553.0H426M124 556.0H426M124 562.0H426M124 585.0H426M124 590.0H426M124 623.0H426M124 625.0H426M124 631.0H426M124 638.0H426M124 656.0H426M124 658.0H426M124 667.0H426M124 668.0H426M124 670.0H426M124 706.0H426M124 718.0H426M124 723.0H426M124 745.0H426M124 746.0H426M124 747.0H426M124 753.0H426M124 754.0H426" stroke="#000" stroke-opacity="0.013"/><path d="M124 76.0H426M124 83.0H426M124 87.0H426M124 106.0H426M124 112.0H426M124 121.0H426M124 128.0H426M124 134.0H426M124 138.0H426M124 142.0H426M124 184.0H426M124 196.0H426M124 207.0H426M124 208.0H426M124 210.0H426M124 212.0H426M124 213.0H426M124 229.0H426M124 243.0H426M124 258.0H426M124 261.0H426M124 278.0H426M124 281.0H426M124 286.0H426M124 292.0H426M124 294.0H426M124 295.0H426M124 299.0H426M124 301.0H426M124 302.0H426M124 307.0H426M124 315.0H426M124 323.0H426M124 326.0H426M124 329.0H426M124 332.0H426M124 337.0H426M124 341.0H426M124 368.0H426M124 387.0H426M124 398.0H426M124 403.0H426M124 408.0H426M124 418.0H426M124 446.0H426M124 485.0H426M124 531.0H426M124 535.0H426M124 541.0H426M124 546.0H426M124 551.0H426M124 560.0H426M124 573.0H426M124 578.0H426M124 597.0H426M124 602.0H426M124 611.0H426M124 612.0H426M124 618.0H426M124 624.0H426M124 630.0H426M124 653.0H426M124 661.0H426M124 677.0H426M124 684.0H426M124 700.0H426M124 724.0H426M124 728.0H426M124 729.0H426" stroke="#fff" stroke-opacity="0.019"/><path d="M124 78.0H426M124 144.0H426M124 146.0H426M124 147.0H426M124 211.0H426M124 232.0H426M124 271.0H426M124 276.0H426M124 288.0H426M124 290.0H426M124 293.0H426M124 312.0H426M124 328.0H426M124 330.0H426M124 385.0H426M124 520.0H426M124 536.0H426M124 572.0H426M124 592.0H426M124 603.0H426M124 654.0H426M124 662.0H426M124 675.0H426M124 679.0H426M124 680.0H426M124 681.0H426M124 682.0H426M124 683.0H426M124 738.0H426M124 756.0H426" stroke="#fff" stroke-opacity="0.030"/><path d="M88 65.0H122M88 67.0H122M88 77.0H122M88 81.0H122M88 109.0H122M88 111.0H122M88 115.0H122M88 117.0H122M88 118.0H122M88 119.0H122M88 126.0H122M88 136.0H122M88 139.0H122M88 141.0H122M88 143.0H122M88 145.0H122M88 149.0H122M88 150.0H122M88 151.0H122M88 164.0H122M88 178.0H122M88 182.0H122M88 197.0H122M88 202.0H122M88 206.0H122M88 216.0H122M88 224.0H122M88 233.0H122M88 234.0H122M88 235.0H122M88 242.0H122M88 245.0H122M88 246.0H122M88 247.0H122M88 248.0H122M88 257.0H122M88 259.0H122M88 266.0H122M88 267.0H122M88 269.0H122M88 270.0H122M88 273.0H122M88 280.0H122M88 285.0H122M88 287.0H122M88 303.0H122M88 306.0H122M88 310.0H122M88 311.0H122M88 313.0H122M88 318.0H122M88 327.0H122M88 333.0H122M88 335.0H122M88 345.0H122M88 346.0H122M88 355.0H122M88 363.0H122M88 378.0H122M88 402.0H122M88 404.0H122M88 407.0H122M88 417.0H122M88 419.0H122M88 420.0H122M88 431.0H122M88 471.0H122M88 484.0H122M88 492.0H122M88 507.0H122M88 526.0H122M88 530.0H122M88 532.0H122M88 534.0H122M88 537.0H122M88 540.0H122M88 542.0H122M88 544.0H122M88 555.0H122M88 574.0H122M88 579.0H122M88 580.0H122M88 581.0H122M88 588.0H122M88 595.0H122M88 596.0H122M88 600.0H122M88 601.0H122M88 627.0H122M88 635.0H122M88 665.0H122M88 673.0H122M88 676.0H122M88 678.0H122M88 694.0H122M88 696.0H122M88 712.0H122M88 713.0H122M88 716.0H122M88 722.0H122M88 730.0H122M88 737.0H122M88 739.0H122M88 740.0H122M88 741.0H122M88 742.0H122M88 755.0H122" stroke="#fff" stroke-opacity="0.006"/><path d="M88 68.0H122M88 97.0H122M88 98.0H122M88 100.0H122M88 124.0H122M88 132.0H122M88 188.0H122M88 193.0H122M88 194.0H122M88 228.0H122M88 304.0H122M88 356.0H122M88 359.0H122M88 360.0H122M88 382.0H122M88 390.0H122M88 406.0H122M88 410.0H122M88 412.0H122M88 434.0H122M88 438.0H122M88 443.0H122M88 444.0H122M88 457.0H122M88 462.0H122M88 464.0H122M88 501.0H122M88 527.0H122M88 564.0H122M88 566.0H122M88 583.0H122M88 589.0H122M88 621.0H122M88 622.0H122M88 640.0H122M88 641.0H122M88 644.0H122M88 648.0H122M88 649.0H122M88 650.0H122M88 651.0H122M88 655.0H122M88 669.0H122M88 707.0H122M88 708.0H122M88 710.0H122M88 711.0H122M88 733.0H122M88 743.0H122" stroke="#000" stroke-opacity="0.014"/><path d="M88 70.0H122M88 74.0H122M88 75.0H122M88 85.0H122M88 90.0H122M88 92.0H122M88 93.0H122M88 102.0H122M88 104.0H122M88 108.0H122M88 113.0H122M88 114.0H122M88 120.0H122M88 122.0H122M88 137.0H122M88 154.0H122M88 155.0H122M88 156.0H122M88 157.0H122M88 160.0H122M88 163.0H122M88 166.0H122M88 168.0H122M88 175.0H122M88 187.0H122M88 189.0H122M88 192.0H122M88 195.0H122M88 198.0H122M88 200.0H122M88 204.0H122M88 205.0H122M88 215.0H122M88 218.0H122M88 221.0H122M88 223.0H122M88 237.0H122M88 240.0H122M88 251.0H122M88 255.0H122M88 256.0H122M88 264.0H122M88 291.0H122M88 298.0H122M88 305.0H122M88 308.0H122M88 314.0H122M88 319.0H122M88 322.0H122M88 331.0H122M88 339.0H122M88 342.0H122M88 353.0H122M88 354.0H122M88 357.0H122M88 362.0H122M88 366.0H122M88 374.0H122M88 376.0H122M88 383.0H122M88 391.0H122M88 392.0H122M88 393.0H122M88 394.0H122M88 399.0H122M88 414.0H122M88 423.0H122M88 425.0H122M88 427.0H122M88 430.0H122M88 435.0H122M88 439.0H122M88 440.0H122M88 450.0H122M88 456.0H122M88 459.0H122M88 460.0H122M88 461.0H122M88 473.0H122M88 474.0H122M88 476.0H122M88 481.0H122M88 486.0H122M88 511.0H122M88 512.0H122M88 513.0H122M88 516.0H122M88 518.0H122M88 522.0H122M88 524.0H122M88 529.0H122M88 538.0H122M88 543.0H122M88 549.0H122M88 550.0H122M88 558.0H122M88 559.0H122M88 563.0H122M88 567.0H122M88 568.0H122M88 576.0H122M88 577.0H122M88 584.0H122M88 587.0H122M88 594.0H122M88 604.0H122M88 607.0H122M88 609.0H122M88 615.0H122M88 616.0H122M88 617.0H122M88 629.0H122M88 636.0H122M88 637.0H122M88 639.0H122M88 642.0H122M88 652.0H122M88 657.0H122M88 686.0H122M88 687.0H122M88 688.0H122M88 693.0H122M88 698.0H122M88 699.0H122M88 703.0H122M88 704.0H122M88 705.0H122M88 709.0H122M88 714.0H122M88 721.0H122M88 725.0H122M88 727.0H122M88 731.0H122M88 735.0H122M88 750.0H122M88 752.0H122" stroke="#000" stroke-opacity="0.004"/><path d="M88 72.0H122M88 73.0H122M88 89.0H122M88 94.0H122M88 99.0H122M88 105.0H122M88 153.0H122M88 162.0H122M88 170.0H122M88 171.0H122M88 172.0H122M88 173.0H122M88 179.0H122M88 217.0H122M88 222.0H122M88 225.0H122M88 226.0H122M88 227.0H122M88 236.0H122M88 254.0H122M88 260.0H122M88 316.0H122M88 348.0H122M88 351.0H122M88 352.0H122M88 358.0H122M88 365.0H122M88 373.0H122M88 375.0H122M88 377.0H122M88 380.0H122M88 384.0H122M88 389.0H122M88 396.0H122M88 400.0H122M88 411.0H122M88 421.0H122M88 422.0H122M88 432.0H122M88 436.0H122M88 453.0H122M88 454.0H122M88 458.0H122M88 463.0H122M88 468.0H122M88 469.0H122M88 487.0H122M88 494.0H122M88 497.0H122M88 500.0H122M88 502.0H122M88 506.0H122M88 509.0H122M88 553.0H122M88 556.0H122M88 562.0H122M88 585.0H122M88 590.0H122M88 623.0H122M88 625.0H122M88 631.0H122M88 638.0H122M88 656.0H122M88 658.0H122M88 667.0H122M88 668.0H122M88 670.0H122M88 706.0H122M88 718.0H122M88 723.0H122M88 745.0H122M88 746.0H122M88 747.0H122M88 753.0H122M88 754.0H122" stroke="#000" stroke-opacity="0.008"/><path d="M88 76.0H122M88 83.0H122M88 87.0H122M88 106.0H122M88 112.0H122M88 121.0H122M88 128.0H122M88 134.0H122M88 138.0H122M88 142.0H122M88 184.0H122M88 196.0H122M88 207.0H122M88 208.0H122M88 210.0H122M88 212.0H122M88 213.0H122M88 229.0H122M88 243.0H122M88 258.0H122M88 261.0H122M88 278.0H122M88 281.0H122M88 286.0H122M88 292.0H122M88 294.0H122M88 295.0H122M88 299.0H122M88 301.0H122M88 302.0H122M88 307.0H122M88 315.0H122M88 323.0H122M88 326.0H122M88 329.0H122M88 332.0H122M88 337.0H122M88 341.0H122M88 368.0H122M88 387.0H122M88 398.0H122M88 403.0H122M88 408.0H122M88 418.0H122M88 446.0H122M88 485.0H122M88 531.0H122M88 535.0H122M88 541.0H122M88 546.0H122M88 551.0H122M88 560.0H122M88 573.0H122M88 578.0H122M88 597.0H122M88 602.0H122M88 611.0H122M88 612.0H122M88 618.0H122M88 624.0H122M88 630.0H122M88 653.0H122M88 661.0H122M88 677.0H122M88 684.0H122M88 700.0H122M88 724.0H122M88 728.0H122M88 729.0H122" stroke="#fff" stroke-opacity="0.012"/><path d="M88 78.0H122M88 144.0H122M88 146.0H122M88 147.0H122M88 211.0H122M88 232.0H122M88 271.0H122M88 276.0H122M88 288.0H122M88 290.0H122M88 293.0H122M88 312.0H122M88 328.0H122M88 330.0H122M88 385.0H122M88 520.0H122M88 536.0H122M88 572.0H122M88 592.0H122M88 603.0H122M88 654.0H122M88 662.0H122M88 675.0H122M88 679.0H122M88 680.0H122M88 681.0H122M88 682.0H122M88 683.0H122M88 738.0H122M88 756.0H122" stroke="#fff" stroke-opacity="0.020"/><path d="M428.0 64V758M431.0 64V758M432.0 64V758M442.0 64V758M460.0 64V758M476.0 64V758M513.0 64V758M514.0 64V758M539.0 64V758M541.0 64V758M543.0 64V758M550.0 64V758M565.0 64V758M566.0 64V758M567.0 64V758M570.0 64V758M584.0 64V758M585.0 64V758M588.0 64V758M589.0 64V758M599.0 64V758M608.0 64V758M609.0 64V758M620.0 64V758M627.0 64V758M658.0 64V758M662.0 64V758M669.0 64V758M670.0 64V758M686.0 64V758M692.0 64V758M703.0 64V758M715.0 64V758M718.0 64V758M735.0 64V758M749.0 64V758M760.0 64V758M762.0 64V758M772.0 64V758M793.0 64V758M799.0 64V758M802.0 64V758M821.0 64V758M848.0 64V758M849.0 64V758M859.0 64V758M874.0 64V758M901.0 64V758M908.0 64V758" stroke="#000" stroke-opacity="0.008"/><path d="M434.0 64V758M464.0 64V758M465.0 64V758M469.0 64V758M481.0 64V758M483.0 64V758M498.0 64V758M502.0 64V758M508.0 64V758M516.0 64V758M527.0 64V758M530.0 64V758M531.0 64V758M545.0 64V758M553.0 64V758M559.0 64V758M571.0 64V758M590.0 64V758M600.0 64V758M607.0 64V758M613.0 64V758M616.0 64V758M618.0 64V758M621.0 64V758M630.0 64V758M632.0 64V758M634.0 64V758M635.0 64V758M650.0 64V758M652.0 64V758M653.0 64V758M654.0 64V758M661.0 64V758M673.0 64V758M674.0 64V758M675.0 64V758M679.0 64V758M689.0 64V758M694.0 64V758M697.0 64V758M701.0 64V758M702.0 64V758M705.0 64V758M707.0 64V758M714.0 64V758M717.0 64V758M720.0 64V758M723.0 64V758M732.0 64V758M739.0 64V758M745.0 64V758M761.0 64V758M771.0 64V758M786.0 64V758M790.0 64V758M791.0 64V758M792.0 64V758M797.0 64V758M804.0 64V758M805.0 64V758M812.0 64V758M819.0 64V758M822.0 64V758M826.0 64V758M831.0 64V758M833.0 64V758M838.0 64V758M839.0 64V758M840.0 64V758M841.0 64V758M843.0 64V758M845.0 64V758M847.0 64V758M851.0 64V758M860.0 64V758M861.0 64V758M869.0 64V758M876.0 64V758M879.0 64V758M882.0 64V758M884.0 64V758M892.0 64V758M902.0 64V758M903.0 64V758M909.0 64V758M914.0 64V758M917.0 64V758" stroke="#000" stroke-opacity="0.004"/><path d="M437.0 64V758M438.0 64V758M440.0 64V758M447.0 64V758M451.0 64V758M453.0 64V758M457.0 64V758M482.0 64V758M491.0 64V758M500.0 64V758M501.0 64V758M505.0 64V758M517.0 64V758M526.0 64V758M532.0 64V758M536.0 64V758M544.0 64V758M548.0 64V758M555.0 64V758M557.0 64V758M573.0 64V758M574.0 64V758M575.0 64V758M577.0 64V758M578.0 64V758M579.0 64V758M581.0 64V758M591.0 64V758M602.0 64V758M603.0 64V758M606.0 64V758M622.0 64V758M631.0 64V758M665.0 64V758M668.0 64V758M683.0 64V758M684.0 64V758M691.0 64V758M693.0 64V758M696.0 64V758M704.0 64V758M706.0 64V758M708.0 64V758M722.0 64V758M728.0 64V758M737.0 64V758M740.0 64V758M741.0 64V758M742.0 64V758M751.0 64V758M757.0 64V758M759.0 64V758M763.0 64V758M764.0 64V758M766.0 64V758M767.0 64V758M769.0 64V758M777.0 64V758M778.0 64V758M789.0 64V758M795.0 64V758M796.0 64V758M814.0 64V758M815.0 64V758M818.0 64V758M823.0 64V758M827.0 64V758M829.0 64V758M835.0 64V758M836.0 64V758M837.0 64V758M844.0 64V758M850.0 64V758M852.0 64V758M853.0 64V758M858.0 64V758M870.0 64V758M871.0 64V758M880.0 64V758M889.0 64V758M891.0 64V758M893.0 64V758M894.0 64V758M896.0 64V758M898.0 64V758M904.0 64V758" stroke="#fff" stroke-opacity="0.006"/><path d="M439.0 64V758M443.0 64V758M444.0 64V758M445.0 64V758M452.0 64V758M454.0 64V758M456.0 64V758M458.0 64V758M471.0 64V758M485.0 64V758M492.0 64V758M499.0 64V758M522.0 64V758M528.0 64V758M537.0 64V758M547.0 64V758M561.0 64V758M576.0 64V758M604.0 64V758M678.0 64V758M709.0 64V758M710.0 64V758M711.0 64V758M712.0 64V758M721.0 64V758M752.0 64V758M753.0 64V758M754.0 64V758M781.0 64V758M784.0 64V758M842.0 64V758M855.0 64V758M864.0 64V758M866.0 64V758M877.0 64V758M886.0 64V758M890.0 64V758" stroke="#fff" stroke-opacity="0.012"/><path d="M448.0 64V758M463.0 64V758M515.0 64V758M552.0 64V758M619.0 64V758M629.0 64V758M649.0 64V758M659.0 64V758M690.0 64V758M716.0 64V758M734.0 64V758M736.0 64V758M746.0 64V758M798.0 64V758M800.0 64V758M806.0 64V758M807.0 64V758" stroke="#000" stroke-opacity="0.014"/><path d="M473.0 64V758M490.0 64V758M494.0 64V758M534.0 64V758M538.0 64V758M592.0 64V758M611.0 64V758M643.0 64V758M756.0 64V758M779.0 64V758M828.0 64V758M834.0 64V758M854.0 64V758M895.0 64V758" stroke="#fff" stroke-opacity="0.020"/><path d="M125.0 64V758M127.0 64V758M148.0 64V758M149.0 64V758M150.0 64V758M151.0 64V758M154.0 64V758M158.0 64V758M166.0 64V758M168.0 64V758M172.0 64V758M177.0 64V758M186.0 64V758M188.0 64V758M195.0 64V758M201.0 64V758M212.0 64V758M217.0 64V758M220.0 64V758M232.0 64V758M239.0 64V758M240.0 64V758M247.0 64V758M248.0 64V758M252.0 64V758M254.0 64V758M256.0 64V758M257.0 64V758M259.0 64V758M260.0 64V758M273.0 64V758M282.0 64V758M287.0 64V758M290.0 64V758M291.0 64V758M295.0 64V758M296.0 64V758M299.0 64V758M300.0 64V758M320.0 64V758M325.0 64V758M329.0 64V758M333.0 64V758M337.0 64V758M350.0 64V758M361.0 64V758M376.0 64V758M384.0 64V758M392.0 64V758M402.0 64V758M409.0 64V758M417.0 64V758" stroke="#000" stroke-opacity="0.008"/><path d="M128.0 64V758M152.0 64V758M174.0 64V758M253.0 64V758M277.0 64V758M358.0 64V758M359.0 64V758M360.0 64V758" stroke="#000" stroke-opacity="0.025"/><path d="M129.0 64V758M157.0 64V758M175.0 64V758M213.0 64V758M215.0 64V758M228.0 64V758M231.0 64V758M233.0 64V758M237.0 64V758M243.0 64V758M249.0 64V758M251.0 64V758M262.0 64V758M279.0 64V758M280.0 64V758M284.0 64V758M288.0 64V758M292.0 64V758M322.0 64V758M332.0 64V758M336.0 64V758M338.0 64V758M372.0 64V758M378.0 64V758M385.0 64V758M404.0 64V758M406.0 64V758M410.0 64V758M411.0 64V758M412.0 64V758M424.0 64V758" stroke="#000" stroke-opacity="0.016"/><path d="M130.0 64V758M137.0 64V758M138.0 64V758M162.0 64V758M164.0 64V758M183.0 64V758M191.0 64V758M202.0 64V758M209.0 64V758M224.0 64V758M238.0 64V758M269.0 64V758M304.0 64V758M305.0 64V758M306.0 64V758M309.0 64V758M315.0 64V758M330.0 64V758M339.0 64V758M354.0 64V758M366.0 64V758M403.0 64V758M414.0 64V758M416.0 64V758" stroke="#fff" stroke-opacity="0.023"/><path d="M131.0 64V758M136.0 64V758M143.0 64V758M146.0 64V758M147.0 64V758M153.0 64V758M169.0 64V758M171.0 64V758M184.0 64V758M189.0 64V758M194.0 64V758M199.0 64V758M205.0 64V758M208.0 64V758M211.0 64V758M218.0 64V758M219.0 64V758M230.0 64V758M235.0 64V758M241.0 64V758M244.0 64V758M255.0 64V758M264.0 64V758M265.0 64V758M283.0 64V758M293.0 64V758M294.0 64V758M297.0 64V758M298.0 64V758M311.0 64V758M314.0 64V758M316.0 64V758M317.0 64V758M321.0 64V758M326.0 64V758M328.0 64V758M331.0 64V758M343.0 64V758M352.0 64V758M355.0 64V758M356.0 64V758M365.0 64V758M367.0 64V758M374.0 64V758M375.0 64V758M389.0 64V758M390.0 64V758M393.0 64V758M394.0 64V758M405.0 64V758M408.0 64V758M415.0 64V758M418.0 64V758M421.0 64V758M425.0 64V758" stroke="#fff" stroke-opacity="0.012"/><path d="M145.0 64V758M203.0 64V758M223.0 64V758M270.0 64V758M302.0 64V758M342.0 64V758M353.0 64V758" stroke="#fff" stroke-opacity="0.036"/><path d="M89.0 64V758M91.0 64V758M102.0 64V758M104.0 64V758M107.0 64V758M112.0 64V758M114.0 64V758M116.0 64V758M117.0 64V758" stroke="#fff" stroke-opacity="0.006"/><path d="M90.0 64V758M97.0 64V758M98.0 64V758M109.0 64V758M119.0 64V758M120.0 64V758" stroke="#000" stroke-opacity="0.004"/><path d="M94.0 64V758M99.0 64V758M113.0 64V758M115.0 64V758" stroke="#fff" stroke-opacity="0.012"/><path d="M101.0 64V758M108.0 64V758M111.0 64V758" stroke="#000" stroke-opacity="0.008"/><path d="M105.0 64V758" stroke="#000" stroke-opacity="0.014"/><path d="M431.0 675V689M434.0 670V692M436.0 680V695M440.0 676V698M444.0 678V695M446.0 679V694M456.0 671V683M472.0 679V702M476.0 678V695M478.0 679V702M479.0 678V693M480.0 673V693M482.0 676V685M490.0 676V684M491.0 674V692M492.0 670V692M507.0 673V697M510.0 674V691M511.0 676V694M512.0 676V692M517.0 671V689M530.0 676V695M532.0 678V690M533.0 674V694M534.0 673V687M538.0 673V692M541.0 671V688M542.0 678V699M543.0 673V694M547.0 673V694M554.0 670V693M560.0 677V699M565.0 671V688M568.0 679V698M573.0 677V688M586.0 675V696M587.0 678V701M590.0 676V698M591.0 673V685M596.0 671V681M597.0 671V694M599.0 675V688M605.0 673V683M609.0 672V686M622.0 675V694M623.0 674V689M631.0 678V697M637.0 676V684M638.0 678V686M639.0 671V693M640.0 670V692M641.0 678V697M646.0 678V694M648.0 677V700M649.0 673V690M651.0 672V684M659.0 675V699M662.0 677V697M668.0 671V691M673.0 673V684M676.0 677V700M683.0 670V686M685.0 674V687M687.0 680V696M700.0 672V692M704.0 672V684M705.0 677V699M712.0 671V692M717.0 673V688M719.0 676V699M720.0 675V685M721.0 677V686M724.0 679V693M727.0 677V695M729.0 678V701M732.0 675V689M736.0 676V695M737.0 679V697M738.0 679V690M739.0 677V695M743.0 672V681M748.0 673V687M750.0 675V687M752.0 673V688M755.0 678V688M756.0 671V681M759.0 672V687M764.0 674V685M767.0 673V693M768.0 678V700M770.0 676V693M774.0 679V694M777.0 678V696M781.0 675V684M784.0 676V699M786.0 678V696M787.0 674V685M788.0 675V698M789.0 679V698M790.0 679V696M794.0 678V701M796.0 678V693M797.0 670V680M798.0 672V688M801.0 676V689M804.0 672V694M806.0 674V690M808.0 670V681M810.0 675V686M811.0 672V686M812.0 670V680M813.0 675V684M814.0 674V689M816.0 674V688M817.0 680V691M818.0 675V685M820.0 671V680M822.0 678V693M824.0 672V685M827.0 671V690M830.0 670V680M831.0 670V679M834.0 680V695M838.0 673V691M840.0 673V695M841.0 674V687M844.0 677V697M848.0 674V686M851.0 672V691M854.0 675V685M856.0 675V695M858.0 672V694M862.0 679V699M863.0 674V683M864.0 680V689M866.0 671V689M867.0 670V681M870.0 672V696M871.0 676V690M876.0 672V681M878.0 670V694M879.0 679V688M881.0 678V696M885.0 676V691M886.0 678V696M888.0 675V691M890.0 673V689M891.0 676V695M892.0 676V694M893.0 674V697M894.0 674V684M895.0 672V695M902.0 679V702M906.0 680V702M907.0 679V690M908.0 677V690M911.0 677V690M912.0 673V693M914.0 671V684M915.0 671V681" stroke="#fff" stroke-opacity="0.06"/><g mask="url(#MB)"><path d="M428.0 590V758M438.0 590V758M448.0 590V758M452.0 590V758M465.0 590V758M476.0 590V758M478.0 590V758M490.0 590V758M497.0 590V758M499.0 590V758M507.0 590V758M530.0 590V758M534.0 590V758M540.0 590V758M558.0 590V758M559.0 590V758M580.0 590V758M582.0 590V758M585.0 590V758M587.0 590V758M592.0 590V758M593.0 590V758M597.0 590V758M601.0 590V758M610.0 590V758M621.0 590V758M624.0 590V758M633.0 590V758M645.0 590V758M654.0 590V758M666.0 590V758M673.0 590V758M676.0 590V758M683.0 590V758M690.0 590V758M698.0 590V758M699.0 590V758M700.0 590V758M709.0 590V758M715.0 590V758M718.0 590V758M721.0 590V758M727.0 590V758M732.0 590V758M742.0 590V758M743.0 590V758M746.0 590V758M748.0 590V758M760.0 590V758M761.0 590V758M768.0 590V758M771.0 590V758M775.0 590V758M776.0 590V758M779.0 590V758M782.0 590V758M786.0 590V758M792.0 590V758M799.0 590V758M807.0 590V758M811.0 590V758M816.0 590V758M819.0 590V758M824.0 590V758M827.0 590V758M828.0 590V758M831.0 590V758M839.0 590V758M841.0 590V758M843.0 590V758M847.0 590V758M848.0 590V758M860.0 590V758M865.0 590V758M869.0 590V758M874.0 590V758M875.0 590V758M876.0 590V758M877.0 590V758M882.0 590V758M892.0 590V758M904.0 590V758" stroke="#fff" stroke-opacity="0.035"/><path d="M431.0 590V758M432.0 590V758M439.0 590V758M460.0 590V758M469.0 590V758M472.0 590V758M477.0 590V758M489.0 590V758M491.0 590V758M493.0 590V758M501.0 590V758M512.0 590V758M526.0 590V758M549.0 590V758M590.0 590V758M649.0 590V758M652.0 590V758M660.0 590V758M662.0 590V758M685.0 590V758M696.0 590V758M716.0 590V758M745.0 590V758M758.0 590V758M765.0 590V758M773.0 590V758M798.0 590V758M801.0 590V758M814.0 590V758M849.0 590V758M853.0 590V758M858.0 590V758M867.0 590V758M872.0 590V758M888.0 590V758M897.0 590V758M903.0 590V758" stroke="#fff" stroke-opacity="0.070"/><path d="M434.0 590V758M453.0 590V758M468.0 590V758M473.0 590V758M503.0 590V758M523.0 590V758M547.0 590V758M568.0 590V758M570.0 590V758M575.0 590V758M591.0 590V758M595.0 590V758M612.0 590V758M629.0 590V758M632.0 590V758M643.0 590V758M669.0 590V758M672.0 590V758M681.0 590V758M711.0 590V758M719.0 590V758M730.0 590V758M738.0 590V758M781.0 590V758M797.0 590V758M806.0 590V758M829.0 590V758M833.0 590V758" stroke="#fff" stroke-opacity="0.110"/><path d="M435.0 590V758M437.0 590V758M447.0 590V758M456.0 590V758M463.0 590V758M464.0 590V758M466.0 590V758M467.0 590V758M471.0 590V758M481.0 590V758M485.0 590V758M487.0 590V758M498.0 590V758M504.0 590V758M510.0 590V758M513.0 590V758M515.0 590V758M528.0 590V758M529.0 590V758M532.0 590V758M541.0 590V758M543.0 590V758M555.0 590V758M566.0 590V758M567.0 590V758M569.0 590V758M571.0 590V758M576.0 590V758M578.0 590V758M584.0 590V758M586.0 590V758M588.0 590V758M589.0 590V758M598.0 590V758M603.0 590V758M608.0 590V758M611.0 590V758M614.0 590V758M618.0 590V758M619.0 590V758M622.0 590V758M631.0 590V758M635.0 590V758M639.0 590V758M646.0 590V758M651.0 590V758M659.0 590V758M664.0 590V758M668.0 590V758M677.0 590V758M679.0 590V758M684.0 590V758M687.0 590V758M697.0 590V758M701.0 590V758M702.0 590V758M703.0 590V758M705.0 590V758M706.0 590V758M708.0 590V758M710.0 590V758M720.0 590V758M728.0 590V758M739.0 590V758M740.0 590V758M752.0 590V758M753.0 590V758M757.0 590V758M777.0 590V758M778.0 590V758M787.0 590V758M791.0 590V758M804.0 590V758M810.0 590V758M812.0 590V758M813.0 590V758M817.0 590V758M837.0 590V758M842.0 590V758M845.0 590V758M846.0 590V758M856.0 590V758M870.0 590V758M878.0 590V758M885.0 590V758M889.0 590V758M895.0 590V758M898.0 590V758M899.0 590V758M900.0 590V758M905.0 590V758M912.0 590V758" stroke="#000" stroke-opacity="0.035"/><path d="M441.0 590V758M445.0 590V758M458.0 590V758M494.0 590V758M502.0 590V758M519.0 590V758M527.0 590V758M533.0 590V758M538.0 590V758M539.0 590V758M544.0 590V758M545.0 590V758M553.0 590V758M565.0 590V758M581.0 590V758M599.0 590V758M602.0 590V758M606.0 590V758M613.0 590V758M626.0 590V758M636.0 590V758M648.0 590V758M653.0 590V758M671.0 590V758M675.0 590V758M680.0 590V758M692.0 590V758M704.0 590V758M714.0 590V758M724.0 590V758M734.0 590V758M762.0 590V758M767.0 590V758M769.0 590V758M770.0 590V758M780.0 590V758M783.0 590V758M800.0 590V758M838.0 590V758M840.0 590V758M850.0 590V758M863.0 590V758M866.0 590V758M880.0 590V758M883.0 590V758M884.0 590V758M893.0 590V758M908.0 590V758" stroke="#000" stroke-opacity="0.070"/><path d="M492.0 590V758M500.0 590V758M525.0 590V758M531.0 590V758M557.0 590V758M572.0 590V758M607.0 590V758M620.0 590V758M642.0 590V758M644.0 590V758M647.0 590V758M650.0 590V758M655.0 590V758M661.0 590V758M686.0 590V758M688.0 590V758M737.0 590V758M766.0 590V758M774.0 590V758M823.0 590V758M826.0 590V758M832.0 590V758M855.0 590V758M857.0 590V758M861.0 590V758M873.0 590V758M896.0 590V758M907.0 590V758" stroke="#000" stroke-opacity="0.110"/><path d="M124.0 590V758M130.0 590V758M137.0 590V758M142.0 590V758M147.0 590V758M148.0 590V758M149.0 590V758M150.0 590V758M156.0 590V758M162.0 590V758M163.0 590V758M166.0 590V758M172.0 590V758M174.0 590V758M180.0 590V758M184.0 590V758M200.0 590V758M202.0 590V758M219.0 590V758M222.0 590V758M232.0 590V758M240.0 590V758M251.0 590V758M252.0 590V758M266.0 590V758M268.0 590V758M272.0 590V758M281.0 590V758M284.0 590V758M291.0 590V758M292.0 590V758M294.0 590V758M295.0 590V758M307.0 590V758M309.0 590V758M326.0 590V758M338.0 590V758M344.0 590V758M345.0 590V758M355.0 590V758M369.0 590V758M380.0 590V758M388.0 590V758M390.0 590V758M395.0 590V758M396.0 590V758M397.0 590V758M402.0 590V758M406.0 590V758M407.0 590V758M417.0 590V758M419.0 590V758" stroke="#000" stroke-opacity="0.045"/><path d="M125.0 590V758M138.0 590V758M152.0 590V758M154.0 590V758M160.0 590V758M181.0 590V758M258.0 590V758M262.0 590V758M265.0 590V758M289.0 590V758M293.0 590V758M302.0 590V758M317.0 590V758M323.0 590V758M371.0 590V758M378.0 590V758M387.0 590V758M410.0 590V758M418.0 590V758" stroke="#fff" stroke-opacity="0.120"/><path d="M128.0 590V758M131.0 590V758M136.0 590V758M185.0 590V758M188.0 590V758M189.0 590V758M192.0 590V758M194.0 590V758M203.0 590V758M206.0 590V758M209.0 590V758M213.0 590V758M237.0 590V758M243.0 590V758M245.0 590V758M250.0 590V758M256.0 590V758M257.0 590V758M269.0 590V758M270.0 590V758M271.0 590V758M274.0 590V758M276.0 590V758M287.0 590V758M290.0 590V758M306.0 590V758M308.0 590V758M315.0 590V758M316.0 590V758M321.0 590V758M337.0 590V758M347.0 590V758M350.0 590V758M353.0 590V758M366.0 590V758M370.0 590V758M375.0 590V758M382.0 590V758M389.0 590V758M391.0 590V758M392.0 590V758M398.0 590V758M412.0 590V758M424.0 590V758" stroke="#fff" stroke-opacity="0.045"/><path d="M129.0 590V758M135.0 590V758M144.0 590V758M171.0 590V758M177.0 590V758M187.0 590V758M196.0 590V758M198.0 590V758M227.0 590V758M229.0 590V758M235.0 590V758M239.0 590V758M241.0 590V758M246.0 590V758M259.0 590V758M260.0 590V758M278.0 590V758M283.0 590V758M299.0 590V758M322.0 590V758M324.0 590V758M334.0 590V758M339.0 590V758M352.0 590V758M356.0 590V758M357.0 590V758M374.0 590V758M377.0 590V758M383.0 590V758M393.0 590V758M416.0 590V758M421.0 590V758" stroke="#fff" stroke-opacity="0.080"/><path d="M134.0 590V758M146.0 590V758M157.0 590V758M161.0 590V758M173.0 590V758M195.0 590V758M216.0 590V758M218.0 590V758M221.0 590V758M228.0 590V758M236.0 590V758M248.0 590V758M253.0 590V758M263.0 590V758M282.0 590V758M303.0 590V758M305.0 590V758M329.0 590V758M331.0 590V758M360.0 590V758M362.0 590V758M400.0 590V758M403.0 590V758M415.0 590V758" stroke="#000" stroke-opacity="0.120"/><path d="M139.0 590V758M145.0 590V758M168.0 590V758M169.0 590V758M178.0 590V758M186.0 590V758M204.0 590V758M205.0 590V758M208.0 590V758M210.0 590V758M212.0 590V758M217.0 590V758M230.0 590V758M255.0 590V758M264.0 590V758M267.0 590V758M277.0 590V758M296.0 590V758M300.0 590V758M301.0 590V758M311.0 590V758M318.0 590V758M325.0 590V758M327.0 590V758M348.0 590V758M354.0 590V758M368.0 590V758M372.0 590V758M381.0 590V758M408.0 590V758M409.0 590V758M411.0 590V758M420.0 590V758M425.0 590V758" stroke="#000" stroke-opacity="0.080"/></g><g mask="url(#MT)"><path d="M428.0 64V110M431.0 64V110M433.0 64V110M436.0 64V110M441.0 64V110M444.0 64V110M446.0 64V110M450.0 64V110M452.0 64V110M454.0 64V110M463.0 64V110M465.0 64V110M466.0 64V110M481.0 64V110M497.0 64V110M500.0 64V110M508.0 64V110M509.0 64V110M512.0 64V110M520.0 64V110M521.0 64V110M527.0 64V110M538.0 64V110M541.0 64V110M543.0 64V110M550.0 64V110M551.0 64V110M559.0 64V110M561.0 64V110M563.0 64V110M565.0 64V110M569.0 64V110M574.0 64V110M579.0 64V110M589.0 64V110M596.0 64V110M601.0 64V110M604.0 64V110M624.0 64V110M627.0 64V110M647.0 64V110M663.0 64V110M665.0 64V110M673.0 64V110M681.0 64V110M689.0 64V110M694.0 64V110M695.0 64V110M696.0 64V110M700.0 64V110M702.0 64V110M710.0 64V110M712.0 64V110M716.0 64V110M717.0 64V110M719.0 64V110M720.0 64V110M726.0 64V110M728.0 64V110M729.0 64V110M730.0 64V110M731.0 64V110M737.0 64V110M752.0 64V110M760.0 64V110M767.0 64V110M769.0 64V110M770.0 64V110M773.0 64V110M774.0 64V110M788.0 64V110M793.0 64V110M794.0 64V110M807.0 64V110M811.0 64V110M814.0 64V110M822.0 64V110M825.0 64V110M835.0 64V110M839.0 64V110M845.0 64V110M849.0 64V110M854.0 64V110M870.0 64V110M878.0 64V110M885.0 64V110M886.0 64V110M898.0 64V110M903.0 64V110M905.0 64V110M907.0 64V110" stroke="#fff" stroke-opacity="0.030"/><path d="M432.0 64V110M435.0 64V110M470.0 64V110M476.0 64V110M477.0 64V110M486.0 64V110M494.0 64V110M501.0 64V110M511.0 64V110M524.0 64V110M547.0 64V110M548.0 64V110M555.0 64V110M578.0 64V110M586.0 64V110M590.0 64V110M597.0 64V110M599.0 64V110M612.0 64V110M620.0 64V110M625.0 64V110M638.0 64V110M650.0 64V110M651.0 64V110M653.0 64V110M654.0 64V110M656.0 64V110M666.0 64V110M669.0 64V110M676.0 64V110M686.0 64V110M699.0 64V110M718.0 64V110M722.0 64V110M764.0 64V110M787.0 64V110M802.0 64V110M816.0 64V110M819.0 64V110M828.0 64V110M844.0 64V110M853.0 64V110M857.0 64V110M861.0 64V110M877.0 64V110M910.0 64V110M911.0 64V110" stroke="#fff" stroke-opacity="0.060"/><path d="M434.0 64V110M439.0 64V110M445.0 64V110M451.0 64V110M455.0 64V110M458.0 64V110M459.0 64V110M462.0 64V110M464.0 64V110M484.0 64V110M487.0 64V110M492.0 64V110M502.0 64V110M503.0 64V110M522.0 64V110M530.0 64V110M532.0 64V110M540.0 64V110M542.0 64V110M546.0 64V110M554.0 64V110M556.0 64V110M564.0 64V110M566.0 64V110M598.0 64V110M606.0 64V110M607.0 64V110M609.0 64V110M610.0 64V110M611.0 64V110M614.0 64V110M617.0 64V110M621.0 64V110M622.0 64V110M623.0 64V110M646.0 64V110M649.0 64V110M657.0 64V110M659.0 64V110M664.0 64V110M667.0 64V110M675.0 64V110M680.0 64V110M684.0 64V110M691.0 64V110M704.0 64V110M709.0 64V110M727.0 64V110M738.0 64V110M741.0 64V110M744.0 64V110M749.0 64V110M751.0 64V110M756.0 64V110M758.0 64V110M759.0 64V110M762.0 64V110M763.0 64V110M776.0 64V110M778.0 64V110M795.0 64V110M797.0 64V110M798.0 64V110M808.0 64V110M818.0 64V110M820.0 64V110M830.0 64V110M838.0 64V110M843.0 64V110M847.0 64V110M859.0 64V110M865.0 64V110M879.0 64V110M884.0 64V110M892.0 64V110M893.0 64V110M896.0 64V110M900.0 64V110M917.0 64V110" stroke="#000" stroke-opacity="0.030"/><path d="M437.0 64V110M438.0 64V110M453.0 64V110M461.0 64V110M473.0 64V110M488.0 64V110M490.0 64V110M495.0 64V110M499.0 64V110M529.0 64V110M544.0 64V110M545.0 64V110M549.0 64V110M558.0 64V110M560.0 64V110M572.0 64V110M581.0 64V110M582.0 64V110M583.0 64V110M588.0 64V110M603.0 64V110M618.0 64V110M628.0 64V110M637.0 64V110M643.0 64V110M658.0 64V110M671.0 64V110M678.0 64V110M679.0 64V110M690.0 64V110M692.0 64V110M697.0 64V110M706.0 64V110M707.0 64V110M750.0 64V110M757.0 64V110M765.0 64V110M775.0 64V110M780.0 64V110M785.0 64V110M803.0 64V110M812.0 64V110M817.0 64V110M821.0 64V110M831.0 64V110M833.0 64V110M850.0 64V110M855.0 64V110M858.0 64V110M869.0 64V110M871.0 64V110M875.0 64V110M891.0 64V110M895.0 64V110M901.0 64V110M914.0 64V110" stroke="#000" stroke-opacity="0.060"/><path d="M440.0 64V110M457.0 64V110M483.0 64V110M513.0 64V110M515.0 64V110M571.0 64V110M576.0 64V110M593.0 64V110M615.0 64V110M648.0 64V110M661.0 64V110M701.0 64V110M703.0 64V110M713.0 64V110M723.0 64V110M753.0 64V110M761.0 64V110M766.0 64V110M789.0 64V110M815.0 64V110M860.0 64V110M867.0 64V110M872.0 64V110M894.0 64V110M915.0 64V110M916.0 64V110" stroke="#fff" stroke-opacity="0.090"/><path d="M442.0 64V110M447.0 64V110M467.0 64V110M468.0 64V110M479.0 64V110M485.0 64V110M519.0 64V110M531.0 64V110M536.0 64V110M552.0 64V110M557.0 64V110M587.0 64V110M630.0 64V110M632.0 64V110M633.0 64V110M639.0 64V110M662.0 64V110M705.0 64V110M715.0 64V110M724.0 64V110M747.0 64V110M790.0 64V110M801.0 64V110M826.0 64V110M827.0 64V110M829.0 64V110M840.0 64V110M841.0 64V110M846.0 64V110M848.0 64V110M866.0 64V110M909.0 64V110M913.0 64V110" stroke="#000" stroke-opacity="0.090"/><path d="M125.0 64V110M137.0 64V110M139.0 64V110M148.0 64V110M161.0 64V110M165.0 64V110M166.0 64V110M185.0 64V110M186.0 64V110M192.0 64V110M193.0 64V110M194.0 64V110M200.0 64V110M205.0 64V110M211.0 64V110M212.0 64V110M224.0 64V110M230.0 64V110M238.0 64V110M242.0 64V110M245.0 64V110M247.0 64V110M250.0 64V110M253.0 64V110M257.0 64V110M262.0 64V110M264.0 64V110M266.0 64V110M268.0 64V110M274.0 64V110M275.0 64V110M281.0 64V110M285.0 64V110M288.0 64V110M289.0 64V110M295.0 64V110M296.0 64V110M300.0 64V110M302.0 64V110M306.0 64V110M321.0 64V110M325.0 64V110M331.0 64V110M333.0 64V110M336.0 64V110M343.0 64V110M344.0 64V110M345.0 64V110M352.0 64V110M354.0 64V110M355.0 64V110M356.0 64V110M362.0 64V110M378.0 64V110M381.0 64V110M385.0 64V110M397.0 64V110M408.0 64V110M409.0 64V110M420.0 64V110M422.0 64V110M424.0 64V110" stroke="#000" stroke-opacity="0.020"/><path d="M127.0 64V110M129.0 64V110M150.0 64V110M153.0 64V110M158.0 64V110M173.0 64V110M175.0 64V110M188.0 64V110M204.0 64V110M206.0 64V110M214.0 64V110M219.0 64V110M222.0 64V110M231.0 64V110M233.0 64V110M249.0 64V110M256.0 64V110M260.0 64V110M270.0 64V110M273.0 64V110M279.0 64V110M294.0 64V110M305.0 64V110M313.0 64V110M322.0 64V110M337.0 64V110M339.0 64V110M350.0 64V110M360.0 64V110M384.0 64V110M386.0 64V110M406.0 64V110M421.0 64V110" stroke="#000" stroke-opacity="0.040"/><path d="M132.0 64V110M156.0 64V110M159.0 64V110M168.0 64V110M178.0 64V110M183.0 64V110M191.0 64V110M210.0 64V110M218.0 64V110M223.0 64V110M226.0 64V110M236.0 64V110M239.0 64V110M271.0 64V110M299.0 64V110M317.0 64V110M330.0 64V110M334.0 64V110M357.0 64V110M365.0 64V110M394.0 64V110M425.0 64V110" stroke="#000" stroke-opacity="0.060"/><path d="M135.0 64V110M136.0 64V110M141.0 64V110M144.0 64V110M146.0 64V110M151.0 64V110M155.0 64V110M157.0 64V110M162.0 64V110M163.0 64V110M164.0 64V110M170.0 64V110M176.0 64V110M181.0 64V110M182.0 64V110M187.0 64V110M196.0 64V110M199.0 64V110M203.0 64V110M209.0 64V110M215.0 64V110M216.0 64V110M220.0 64V110M228.0 64V110M229.0 64V110M248.0 64V110M267.0 64V110M269.0 64V110M287.0 64V110M307.0 64V110M309.0 64V110M311.0 64V110M314.0 64V110M315.0 64V110M319.0 64V110M323.0 64V110M338.0 64V110M351.0 64V110M359.0 64V110M370.0 64V110M371.0 64V110M380.0 64V110M382.0 64V110M389.0 64V110M402.0 64V110M416.0 64V110M417.0 64V110M419.0 64V110M423.0 64V110" stroke="#fff" stroke-opacity="0.020"/><path d="M140.0 64V110M149.0 64V110M171.0 64V110M174.0 64V110M189.0 64V110M197.0 64V110M234.0 64V110M240.0 64V110M251.0 64V110M254.0 64V110M276.0 64V110M301.0 64V110M324.0 64V110M326.0 64V110M332.0 64V110M335.0 64V110M340.0 64V110M363.0 64V110M367.0 64V110M368.0 64V110M379.0 64V110M387.0 64V110M403.0 64V110M404.0 64V110" stroke="#fff" stroke-opacity="0.040"/><path d="M142.0 64V110M152.0 64V110M286.0 64V110M303.0 64V110M328.0 64V110M341.0 64V110M346.0 64V110M369.0 64V110M375.0 64V110M376.0 64V110M413.0 64V110" stroke="#fff" stroke-opacity="0.060"/></g></g></g></g><rect x="88.5" y="64.3" width="829.0" height="693.2" fill="none" stroke="#111" stroke-width="1.05"/><path d="M234.6 757.5v-9M234.6 64.3v9M380.6 757.5v-9M380.6 64.3v9M526.6 757.5v-9M526.6 64.3v9M672.6 757.5v-9M672.6 64.3v9M818.6 757.5v-9M818.6 64.3v9M88.5 107.5h9M917.5 107.5h-9M88.5 169.0h9M917.5 169.0h-9M88.5 230.5h9M917.5 230.5h-9M88.5 291.8h9M917.5 291.8h-9M88.5 353.2h9M917.5 353.2h-9M88.5 414.6h9M917.5 414.6h-9M88.5 476.0h9M917.5 476.0h-9M88.5 537.4h9M917.5 537.4h-9M88.5 598.8h9M917.5 598.8h-9M88.5 660.2h9M917.5 660.2h-9M88.5 721.6h9M917.5 721.6h-9" stroke="#111" stroke-width="0.95" fill="none"/><rect x="937.7" y="65.3" width="25.0" height="694.2" fill="url(#cb)" stroke="#222" stroke-width="1.05"/><path d="M937.7 73.8h8M962.7 73.8h-8M937.7 175.0h8M962.7 175.0h-8M937.7 276.3h8M962.7 276.3h-8M937.7 377.5h8M962.7 377.5h-8M937.7 478.6h8M962.7 478.6h-8M937.7 579.8h8M962.7 579.8h-8M937.7 681.0h8M962.7 681.0h-8" stroke="#2a1212" stroke-opacity="0.85" stroke-width="1.2" fill="none"/><rect x="88.2" y="857.3" width="829.0" height="694.5" fill="none" stroke="#3c3c3c" stroke-width="1.4"/><path d="M108.3 1551.8v-7.5M108.3 857.3v7.5M246.5 1551.8v-7.5M246.5 857.3v7.5M384.7 1551.8v-7.5M384.7 857.3v7.5M522.9 1551.8v-7.5M522.9 857.3v7.5M661.1 1551.8v-7.5M661.1 857.3v7.5M799.3 1551.8v-7.5M799.3 857.3v7.5M88.2 1474.5h7.5M917.2 1474.5h-7.5M88.2 1397.3h7.5M917.2 1397.3h-7.5M88.2 1320.2h7.5M917.2 1320.2h-7.5M88.2 1243.1h7.5M917.2 1243.1h-7.5M88.2 1165.9h7.5M917.2 1165.9h-7.5M88.2 1088.8h7.5M917.2 1088.8h-7.5M88.2 1011.7h7.5M917.2 1011.7h-7.5M88.2 934.6h7.5M917.2 934.6h-7.5" stroke="#3c3c3c" stroke-width="1.3" fill="none"/><polyline points="113.0,1549.9 114.1,1551.5 115.2,1549.5 116.3,1551.0 117.4,1548.4 118.5,1549.7 119.6,1547.6 120.7,1546.8 121.8,1545.9 122.9,1548.7 124.1,1549.2 125.2,1550.3 126.3,1551.5 127.4,1550.9 128.5,1550.6 129.6,1549.4 130.7,1548.9 131.8,1549.8 132.9,1548.7 134.0,1551.6 135.1,1552.1 136.2,1551.8 137.3,1550.5 138.4,1538.5 139.5,1446.9 140.6,1342.2 141.7,1306.3 142.8,1291.8 144.0,1286.2 145.1,1283.4 146.2,1280.9 147.3,1285.1 148.4,1270.3 149.5,1272.2 150.6,1260.9 151.7,1253.4 152.8,1261.8 153.9,1250.6 155.0,1250.3 156.1,1246.5 157.2,1246.1 158.3,1253.4 159.4,1251.8 160.5,1251.8 161.6,1241.9 162.8,1239.5 163.9,1237.5 165.0,1244.8 166.1,1234.7 167.2,1236.2 168.3,1235.4 169.4,1234.0 170.5,1242.5 171.6,1241.7 172.7,1238.5 173.8,1231.7 174.9,1230.6 176.0,1229.1 177.1,1229.2 178.2,1228.8 179.3,1229.5 180.4,1227.0 181.5,1227.0 182.7,1223.6 183.8,1222.2 184.9,1230.2 186.0,1222.8 187.1,1222.5 188.2,1228.8 189.3,1229.1 190.4,1223.8 191.5,1229.7 192.6,1223.8 193.7,1221.5 194.8,1222.0 195.9,1221.4 197.0,1224.1 198.1,1221.0 199.2,1229.5 200.3,1229.5 201.4,1222.0 202.6,1220.8 203.7,1227.4 204.8,1226.9 205.9,1219.8 207.0,1228.0 208.1,1219.7 209.2,1225.3 210.3,1225.8 211.4,1215.4 212.5,1223.3 213.6,1224.0 214.7,1224.2 215.8,1214.1 216.9,1224.7 218.0,1225.9 219.1,1217.2 220.2,1216.4 221.3,1225.9 222.5,1218.7 223.6,1228.0 224.7,1219.2 225.8,1220.2 226.9,1228.5 228.0,1227.5 229.1,1218.0 230.2,1216.2 231.3,1225.8 232.4,1223.3 233.5,1224.4 234.6,1214.8 235.7,1215.9 236.8,1224.9 237.9,1223.3 239.0,1213.7 240.1,1213.1 241.2,1221.7 242.4,1214.2 243.5,1221.5 244.6,1213.4 245.7,1212.2 246.8,1213.4 247.9,1222.5 249.0,1214.0 250.1,1220.3 251.2,1222.2 252.3,1214.1 253.4,1213.5 254.5,1213.4 255.6,1214.6 256.7,1212.7 257.8,1213.8 258.9,1222.2 260.0,1212.4 261.1,1211.7 262.3,1211.1 263.4,1221.7 264.5,1222.3 265.6,1212.1 266.7,1212.3 267.8,1220.4 268.9,1218.8 270.0,1218.4 271.1,1208.7 272.2,1208.3 273.3,1214.9 274.4,1206.8 275.5,1208.3 276.6,1219.1 277.7,1211.5 278.8,1221.1 279.9,1222.7 281.1,1224.0 282.2,1213.7 283.3,1222.9 284.4,1211.7 285.5,1213.4 286.6,1219.7 287.7,1221.4 288.8,1211.9 289.9,1218.9 291.0,1212.1 292.1,1220.4 293.2,1211.0 294.3,1221.5 295.4,1212.3 296.5,1211.2 297.6,1219.7 298.7,1212.0 299.8,1211.2 301.0,1213.4 302.1,1212.5 303.2,1219.1 304.3,1211.6 305.4,1218.8 306.5,1212.6 307.6,1218.8 308.7,1210.6 309.8,1220.2 310.9,1214.1 312.0,1221.2 313.1,1212.5 314.2,1211.3 315.3,1210.3 316.4,1218.5 317.5,1212.0 318.6,1219.8 319.7,1211.2 320.9,1211.0 322.0,1210.2 323.1,1218.8 324.2,1220.3 325.3,1212.0 326.4,1221.0 327.5,1218.6 328.6,1217.8 329.7,1219.4 330.8,1219.6 331.9,1211.9 333.0,1220.3 334.1,1211.7 335.2,1220.9 336.3,1221.8 337.4,1220.4 338.5,1213.2 339.6,1214.6 340.8,1221.4 341.9,1213.9 343.0,1213.3 344.1,1220.0 345.2,1213.0 346.3,1212.1 347.4,1217.9 348.5,1209.6 349.6,1218.4 350.7,1209.9 351.8,1210.0 352.9,1212.5 354.0,1220.1 355.1,1211.3 356.2,1219.6 357.3,1211.5 358.4,1221.1 359.5,1221.6 360.7,1220.6 361.8,1210.6 362.9,1209.5 364.0,1209.0 365.1,1211.3 366.2,1211.6 367.3,1211.7 368.4,1219.0 369.5,1219.7 370.6,1217.6 371.7,1210.2 372.8,1218.3 373.9,1212.1 375.0,1220.0 376.1,1209.7 377.2,1212.3 378.3,1218.6 379.4,1212.4 380.6,1214.2 381.7,1219.8 382.8,1212.3 383.9,1213.6 385.0,1221.7 386.1,1222.9 387.2,1220.1 388.3,1212.6 389.4,1212.1 390.5,1219.1 391.6,1211.3 392.7,1211.5 393.8,1211.9 394.9,1211.6 396.0,1216.3 397.1,1209.7 398.2,1206.8 399.3,1217.5 400.5,1207.9 401.6,1217.0 402.7,1217.8 403.8,1212.2 404.9,1213.2 406.0,1222.7 407.1,1214.9 408.2,1212.4 409.3,1213.1 410.4,1220.6 411.5,1220.5 412.6,1222.5 413.7,1214.1 414.8,1222.2 415.9,1215.3 417.0,1223.1 418.1,1215.2 419.3,1214.9 420.4,1215.5 421.5,1223.0 422.6,1222.8 423.7,1217.3 424.8,1218.2 425.9,1207.6 427.0,1088.8 428.1,993.5 429.2,957.6 430.3,942.0 431.4,940.3 432.5,937.2 433.6,941.2 434.7,932.8 435.8,929.0 436.9,929.2 438.0,927.2 439.2,932.6 440.3,932.8 441.4,930.6 442.5,932.8 443.6,924.5 444.7,924.1 445.8,921.1 446.9,921.7 448.0,919.4 449.1,920.2 450.2,917.7 451.3,918.3 452.4,924.8 453.5,917.3 454.6,918.1 455.7,924.1 456.8,921.8 457.9,914.3 459.1,914.4 460.2,914.1 461.3,918.6 462.4,918.3 463.5,910.2 464.6,916.8 465.7,909.9 466.8,917.4 467.9,909.2 469.0,918.9 470.1,910.7 471.2,916.7 472.3,908.5 473.4,909.7 474.5,908.9 475.6,915.4 476.7,908.6 477.8,915.9 479.0,908.2 480.1,909.2 481.2,915.4 482.3,907.3 483.4,915.4 484.5,905.8 485.6,913.8 486.7,907.4 487.8,913.5 488.9,915.2 490.0,913.7 491.1,905.8 492.2,913.0 493.3,906.0 494.4,912.7 495.5,912.5 496.6,913.6 497.7,905.6 498.9,906.5 500.0,906.1 501.1,906.3 502.2,912.7 503.3,911.4 504.4,911.5 505.5,909.6 506.6,902.3 507.7,910.2 508.8,903.3 509.9,902.1 511.0,903.1 512.1,901.8 513.2,902.5 514.3,903.3 515.4,901.2 516.5,908.8 517.6,908.3 518.8,902.9 519.9,907.9 521.0,906.4 522.1,900.5 523.2,907.7 524.3,898.5 525.4,899.8 526.5,906.1 527.6,906.4 528.7,900.5 529.8,900.1 530.9,900.2 532.0,906.8 533.1,905.8 534.2,906.0 535.3,905.7 536.4,907.3 537.5,897.9 538.7,905.0 539.8,899.1 540.9,904.7 542.0,906.2 543.1,898.6 544.2,898.3 545.3,904.0 546.4,898.2 547.5,904.6 548.6,896.4 549.7,904.6 550.8,898.3 551.9,899.2 553.0,906.5 554.1,896.8 555.2,905.4 556.3,905.8 557.5,897.0 558.6,904.2 559.7,896.7 560.8,903.9 561.9,902.6 563.0,897.0 564.1,904.0 565.2,903.3 566.3,895.6 567.4,894.6 568.5,902.6 569.6,896.0 570.7,895.1 571.8,895.4 572.9,904.2 574.0,905.0 575.1,897.0 576.2,897.3 577.4,904.1 578.5,895.3 579.6,903.6 580.7,895.9 581.8,895.9 582.9,894.3 584.0,895.8 585.1,902.9 586.2,902.7 587.3,902.6 588.4,901.9 589.5,901.9 590.6,894.9 591.7,903.8 592.8,895.3 593.9,893.8 595.0,901.3 596.1,901.6 597.3,900.4 598.4,894.2 599.5,900.9 600.6,895.8 601.7,893.9 602.8,903.1 603.9,902.3 605.0,902.2 606.1,892.5 607.2,899.8 608.3,892.5 609.4,901.7 610.5,901.3 611.6,900.4 612.7,898.8 613.8,899.9 614.9,891.7 616.0,901.4 617.2,901.8 618.3,900.3 619.4,893.7 620.5,894.4 621.6,900.4 622.7,902.7 623.8,893.8 624.9,895.4 626.0,902.0 627.1,894.2 628.2,901.4 629.3,899.7 630.4,893.0 631.5,893.9 632.6,893.7 633.7,891.4 634.8,898.0 635.9,899.2 637.1,890.5 638.2,899.7 639.3,890.9 640.4,891.5 641.5,892.0 642.6,900.1 643.7,893.4 644.8,892.7 645.9,900.1 647.0,893.6 648.1,902.2 649.2,893.9 650.3,902.8 651.4,894.3 652.5,903.1 653.6,893.6 654.7,894.6 655.8,893.6 657.0,901.0 658.1,892.5 659.2,899.3 660.3,894.3 661.4,893.1 662.5,894.7 663.6,900.2 664.7,900.1 665.8,892.5 666.9,893.3 668.0,899.8 669.1,900.2 670.2,890.9 671.3,898.4 672.4,898.1 673.5,896.8 674.6,897.8 675.7,897.0 676.9,891.1 678.0,897.2 679.1,894.9 680.2,886.5 681.3,884.8 682.4,892.5 683.5,886.5 684.6,896.4 685.7,891.4 686.8,899.5 687.9,893.3 689.0,902.8 690.1,903.2 691.2,905.3 692.3,906.1 693.4,905.7 694.5,899.4 695.7,897.4 696.8,905.0 697.9,896.9 699.0,903.7 700.1,892.5 701.2,886.9 702.3,879.4 703.4,870.0 704.5,869.0 705.6,870.7 706.7,877.4 707.8,877.8 708.9,876.0 710.0,876.9 711.1,874.7 712.2,875.5 713.3,869.5 714.4,877.3 715.6,871.4 716.7,879.4 717.8,873.1 718.9,874.5 720.0,881.5 721.1,875.4 722.2,873.8 723.3,874.3 724.4,872.8 725.5,878.4 726.6,871.0 727.7,872.6 728.8,879.0 729.9,872.7 731.0,878.8 732.1,871.8 733.2,877.0 734.3,869.8 735.5,870.9 736.6,871.0 737.7,869.3 738.8,868.3 739.9,869.0 741.0,867.3 742.1,874.9 743.2,872.8 744.3,873.9 745.4,873.9 746.5,872.6 747.6,867.4 748.7,874.4 749.8,866.6 750.9,873.4 752.0,874.3 753.1,866.1 754.2,874.0 755.4,864.9 756.5,871.6 757.6,872.0 758.7,872.4 759.8,865.5 760.9,872.4 762.0,866.1 763.1,866.0 764.2,873.4 765.3,866.9 766.4,867.2 767.5,867.7 768.6,868.9 769.7,875.7 770.8,874.2 771.9,874.7 773.0,874.4 774.1,875.0 775.3,875.2 776.4,875.7 777.5,868.9 778.6,869.1 779.7,868.0 780.8,875.6 781.9,874.5 783.0,868.5 784.1,874.2 785.2,874.1 786.3,868.0 787.4,874.5 788.5,873.3 789.6,873.0 790.7,867.3 791.8,868.1 792.9,873.1 794.0,866.7 795.2,868.1 796.3,872.9 797.4,867.7 798.5,874.3 799.6,868.1 800.7,868.4 801.8,874.0 802.9,868.5 804.0,866.8 805.1,872.9 806.2,866.0 807.3,866.9 808.4,866.8 809.5,867.2 810.6,866.7 811.7,873.9 812.8,866.2 813.9,865.9 815.1,874.5 816.2,872.3 817.3,872.7 818.4,871.9 819.5,872.5 820.6,871.5 821.7,863.4 822.8,871.0 823.9,862.6 825.0,862.4 826.1,863.7 827.2,869.5 828.3,862.6 829.4,862.2 830.5,864.3 831.6,864.0 832.7,871.1 833.9,864.0 835.0,872.0 836.1,865.6 837.2,870.2 838.3,863.9 839.4,870.9 840.5,866.0 841.6,871.9 842.7,871.8 843.8,865.9 844.9,863.9 846.0,871.2 847.1,864.2 848.2,864.3 849.3,864.5 850.4,863.3 851.5,869.9 852.6,863.9 853.8,863.6 854.9,871.4 856.0,871.3 857.1,871.1 858.2,871.8 859.3,863.6 860.4,864.1 861.5,869.7 862.6,862.1 863.7,868.2 864.8,861.9 865.9,868.8 867.0,870.3 868.1,862.4 869.2,862.4 870.3,870.4 871.4,869.8 872.5,862.4 873.7,863.3 874.8,869.8 875.9,869.1 877.0,868.7 878.1,866.6 879.2,861.7 880.3,867.8 881.4,863.7 882.5,863.6 883.6,867.3 884.7,867.4 885.8,868.8 886.9,869.1 888.0,875.2 889.1,876.7 890.2,869.2 891.3,877.3 892.4,876.5 893.6,871.6" fill="none" stroke="#3953a4" stroke-width="9" stroke-linejoin="round" stroke-linecap="round"/><polyline points="113.0,1550.6 114.1,1551.1 115.2,1550.0 116.3,1550.5 117.4,1549.1 118.5,1549.4 119.6,1548.1 120.7,1547.3 121.8,1546.6 122.9,1548.2 124.1,1548.8 125.2,1549.8 126.3,1550.9 127.4,1550.3 128.5,1549.9 129.6,1549.0 130.7,1548.5 131.8,1549.3 132.9,1549.3 134.0,1551.0 135.1,1551.5 136.2,1551.4 137.3,1550.9 138.4,1538.5 139.5,1446.9 140.6,1342.2 141.7,1306.3 142.8,1293.5 144.0,1289.2 145.1,1286.2 146.2,1283.0 147.3,1282.1 148.4,1272.6 149.5,1270.4 150.6,1262.6 151.7,1256.4 152.8,1259.2 153.9,1253.2 155.0,1252.1 156.1,1249.4 157.2,1248.6 158.3,1251.1 159.4,1249.5 160.5,1248.8 161.6,1243.6 162.8,1241.5 163.9,1239.8 165.0,1242.4 166.1,1237.6 167.2,1238.1 168.3,1237.5 169.4,1236.4 170.5,1239.8 171.6,1239.0 172.7,1237.0 173.8,1233.7 174.9,1232.7 176.0,1231.6 177.1,1231.5 178.2,1231.1 179.3,1231.0 180.4,1229.3 181.5,1228.7 182.7,1226.4 183.8,1225.2 184.9,1228.2 186.0,1224.7 187.1,1224.4 188.2,1227.2 189.3,1227.6 190.4,1225.6 191.5,1228.0 192.6,1225.5 193.7,1224.3 194.8,1224.6 195.9,1224.3 197.0,1225.7 198.1,1224.0 199.2,1227.6 200.3,1227.4 201.4,1223.9 202.6,1223.1 203.7,1225.7 204.8,1225.2 205.9,1221.9 207.0,1225.2 208.1,1221.2 209.2,1223.2 210.3,1223.1 211.4,1218.0 212.5,1221.2 213.6,1221.3 214.7,1221.3 215.8,1217.1 216.9,1222.2 218.0,1223.0 219.1,1219.3 220.2,1219.1 221.3,1223.6 222.5,1220.9 223.6,1225.4 224.7,1221.7 225.8,1222.1 226.9,1225.6 228.0,1224.7 229.1,1220.1 230.2,1218.9 231.3,1223.0 232.4,1221.6 233.5,1222.1 234.6,1217.8 235.7,1218.3 236.8,1222.1 237.9,1221.1 239.0,1216.6 240.1,1216.0 241.2,1219.5 242.4,1215.9 243.5,1219.0 244.6,1215.5 245.7,1215.1 246.8,1215.8 247.9,1219.9 249.0,1216.1 250.1,1218.6 251.2,1219.5 252.3,1215.9 253.4,1215.6 254.5,1215.5 255.6,1216.1 256.7,1215.1 257.8,1215.6 258.9,1219.3 260.0,1214.9 261.1,1214.5 262.3,1214.1 263.4,1218.9 264.5,1219.3 265.6,1214.9 266.7,1214.7 267.8,1217.8 268.9,1216.5 270.0,1215.7 271.1,1210.9 272.2,1210.2 273.3,1212.5 274.4,1208.8 275.5,1210.5 276.6,1216.4 277.7,1214.0 278.8,1219.2 279.9,1220.7 281.1,1221.1 282.2,1216.2 283.3,1220.0 284.4,1214.5 285.5,1215.2 286.6,1217.8 287.7,1218.6 288.8,1214.2 289.9,1217.1 291.0,1214.1 292.1,1217.8 293.2,1213.7 294.3,1218.7 295.4,1214.7 296.5,1214.2 297.6,1218.0 298.7,1214.5 299.8,1214.0 301.0,1215.0 302.1,1214.4 303.2,1217.2 304.3,1213.9 305.4,1216.9 306.5,1214.3 307.6,1217.0 308.7,1213.6 309.8,1218.2 310.9,1215.8 312.0,1218.9 313.1,1214.8 314.2,1213.8 315.3,1213.0 316.4,1216.5 317.5,1213.6 318.6,1217.1 319.7,1213.3 320.9,1213.4 322.0,1213.2 323.1,1217.2 324.2,1218.0 325.3,1214.2 326.4,1218.0 327.5,1216.6 328.6,1216.2 329.7,1217.0 330.8,1217.2 331.9,1214.0 333.0,1217.9 334.1,1214.4 335.2,1218.8 336.3,1219.4 337.4,1218.8 338.5,1215.7 339.6,1216.2 340.8,1219.0 341.9,1215.6 343.0,1215.2 344.1,1217.9 345.2,1214.7 346.3,1214.0 347.4,1216.2 348.5,1212.5 349.6,1216.4 350.7,1212.7 351.8,1212.8 352.9,1214.2 354.0,1217.7 355.1,1214.0 356.2,1217.8 357.3,1214.3 358.4,1218.7 359.5,1218.8 360.7,1218.0 361.8,1213.2 362.9,1212.3 364.0,1211.9 365.1,1213.2 366.2,1213.6 367.3,1213.8 368.4,1217.0 369.5,1217.2 370.6,1216.1 371.7,1212.9 372.8,1216.5 373.9,1213.9 375.0,1217.3 376.1,1212.7 377.2,1214.1 378.3,1216.9 379.4,1214.6 380.6,1215.7 381.7,1218.3 382.8,1215.2 383.9,1216.0 385.0,1219.6 386.1,1219.9 387.2,1218.2 388.3,1214.8 389.4,1214.5 390.5,1217.6 391.6,1214.1 392.7,1214.0 393.8,1213.8 394.9,1213.2 396.0,1214.7 397.1,1211.4 398.2,1209.7 399.3,1214.6 400.5,1210.5 401.6,1214.9 402.7,1215.9 403.8,1214.3 404.9,1215.4 406.0,1220.2 407.1,1216.8 408.2,1215.4 409.3,1215.5 410.4,1218.5 411.5,1218.4 412.6,1219.6 413.7,1216.1 414.8,1219.9 415.9,1216.9 417.0,1220.3 418.1,1216.8 419.3,1217.0 420.4,1217.5 421.5,1221.0 422.6,1221.0 423.7,1219.0 424.8,1219.8 425.9,1207.6 427.0,1088.8 428.1,993.5 429.2,957.6 430.3,944.4 431.4,941.8 432.5,938.6 433.6,938.8 434.7,934.3 435.8,931.5 436.9,930.9 438.0,929.2 439.2,930.9 440.3,930.6 441.4,929.1 442.5,930.1 443.6,926.1 444.7,925.6 445.8,923.8 446.9,923.7 448.0,922.1 449.1,922.0 450.2,920.4 451.3,920.4 452.4,922.9 453.5,919.4 454.6,919.6 455.7,921.9 456.8,920.4 457.9,916.7 459.1,916.3 460.2,915.7 461.3,917.0 462.4,916.5 463.5,912.5 464.6,915.1 465.7,912.1 466.8,915.5 467.9,911.9 469.0,916.3 470.1,912.4 471.2,914.7 472.3,910.9 473.4,911.4 474.5,911.0 475.6,913.7 476.7,910.7 477.8,913.8 479.0,910.4 480.1,910.8 481.2,913.4 482.3,909.5 483.4,912.9 484.5,908.4 485.6,911.9 486.7,909.1 487.8,911.7 488.9,912.5 490.0,911.8 491.1,908.2 492.2,911.2 493.3,907.9 494.4,910.6 495.5,910.4 496.6,910.9 497.7,907.4 498.9,908.0 500.0,907.7 501.1,907.6 502.2,910.2 503.3,909.2 504.4,909.1 505.5,907.9 506.6,904.5 507.7,908.0 508.8,905.1 509.9,904.5 511.0,904.9 512.1,904.2 513.2,904.4 514.3,904.7 515.4,903.7 516.5,907.1 517.6,906.8 518.8,904.4 519.9,906.1 521.0,905.0 522.1,902.2 523.2,905.2 524.3,901.2 525.4,901.9 526.5,904.7 527.6,904.9 528.7,902.3 529.8,902.0 530.9,901.9 532.0,904.7 533.1,904.2 534.2,904.2 535.3,903.9 536.4,904.5 537.5,900.2 538.7,903.2 539.8,900.6 540.9,902.9 542.0,903.6 543.1,900.2 544.2,900.1 545.3,902.5 546.4,899.9 547.5,902.6 548.6,898.9 549.7,902.6 550.8,900.1 551.9,900.6 553.0,903.9 554.1,899.5 555.2,903.2 556.3,903.2 557.5,899.1 558.6,902.0 559.7,898.6 560.8,901.7 561.9,901.2 563.0,898.9 564.1,901.9 565.2,901.5 566.3,897.9 567.4,897.4 568.5,901.0 569.6,898.2 570.7,897.8 571.8,898.0 572.9,902.0 574.0,902.4 575.1,898.8 576.2,898.9 577.4,901.7 578.5,897.5 579.6,901.0 580.7,897.5 581.8,897.5 582.9,896.7 584.0,897.5 585.1,900.6 586.2,900.4 587.3,900.4 588.4,900.1 589.5,900.2 590.6,897.3 591.7,901.2 592.8,897.2 593.9,896.2 595.0,899.1 596.1,899.1 597.3,898.4 598.4,895.9 599.5,899.0 600.6,897.2 601.7,896.4 602.8,900.6 603.9,900.0 605.0,899.7 606.1,895.2 607.2,898.3 608.3,895.1 609.4,899.2 610.5,898.9 611.6,898.3 612.7,897.4 613.8,897.8 614.9,894.2 616.0,898.7 617.2,899.2 618.3,898.7 619.4,896.0 620.5,896.4 621.6,898.9 622.7,900.0 623.8,896.1 624.9,897.0 626.0,899.8 627.1,896.3 628.2,899.2 629.3,898.2 630.4,895.1 631.5,895.4 632.6,895.2 633.7,893.9 634.8,896.6 635.9,897.1 637.1,893.1 638.2,897.3 639.3,893.5 640.4,894.1 641.5,894.6 642.6,898.3 643.7,895.4 644.8,895.0 645.9,898.3 647.0,895.5 648.1,899.5 649.2,896.0 650.3,900.2 651.4,896.5 652.5,900.4 653.6,896.0 654.7,896.1 655.8,895.3 657.0,898.4 658.1,894.6 659.2,897.7 660.3,895.8 661.4,895.3 662.5,896.2 663.6,898.4 664.7,898.1 665.8,894.5 666.9,894.8 668.0,897.5 669.1,897.6 670.2,893.3 671.3,896.4 672.4,896.0 673.5,895.2 674.6,895.6 675.7,895.0 676.9,892.5 678.0,894.9 679.1,893.1 680.2,888.7 681.3,887.3 682.4,891.0 683.5,889.2 684.6,894.3 685.7,893.0 686.8,897.4 687.9,895.4 689.0,900.3 690.1,901.0 691.2,902.6 692.3,903.5 693.4,903.8 694.5,900.8 695.7,899.6 696.8,902.6 697.9,898.7 699.0,901.4 700.1,895.1 701.2,888.7 702.3,881.1 703.4,872.3 704.5,871.3 705.6,872.3 706.7,875.3 707.8,875.6 708.9,874.6 710.0,874.8 711.1,873.5 712.2,873.8 713.3,871.6 714.4,875.6 715.6,873.6 716.7,877.7 717.8,875.3 718.9,876.4 720.0,879.9 721.1,877.3 722.2,876.2 723.3,876.1 724.4,875.0 725.5,877.0 726.6,873.4 727.7,874.1 728.8,876.9 729.9,874.1 731.0,876.8 732.1,873.6 733.2,875.6 734.3,872.2 735.5,872.5 736.6,872.3 737.7,871.1 738.8,870.2 739.9,870.2 741.0,869.1 742.1,872.4 743.2,871.5 744.3,872.0 745.4,872.0 746.5,871.2 747.6,869.0 748.7,872.2 749.8,868.8 750.9,871.7 752.0,872.0 753.1,868.2 754.2,871.6 755.4,867.3 756.5,870.2 757.6,870.2 758.7,870.3 759.8,867.3 760.9,870.6 762.0,868.1 763.1,868.2 764.2,871.4 765.3,868.6 766.4,868.9 767.5,869.5 768.6,870.4 769.7,873.5 770.8,872.6 771.9,872.7 773.0,872.3 774.1,872.7 775.3,872.9 776.4,873.2 777.5,870.4 778.6,870.6 779.7,870.0 780.8,873.4 781.9,872.9 783.0,870.4 784.1,872.9 785.2,872.9 786.3,870.1 787.4,872.8 788.5,872.1 789.6,871.8 790.7,869.2 791.8,869.5 792.9,871.6 794.0,868.8 795.2,869.6 796.3,871.7 797.4,869.5 798.5,872.4 799.6,869.8 800.7,869.9 801.8,872.2 802.9,869.7 804.0,868.8 805.1,871.3 806.2,868.2 807.3,868.5 808.4,868.3 809.5,868.4 810.6,868.2 811.7,871.5 812.8,868.3 813.9,868.3 815.1,872.1 816.2,870.9 817.3,870.9 818.4,870.2 819.5,870.2 820.6,869.5 821.7,865.6 822.8,868.8 823.9,864.9 825.0,864.7 826.1,865.3 827.2,867.8 828.3,864.7 829.4,864.6 830.5,865.7 831.6,865.6 832.7,868.9 833.9,865.9 835.0,869.6 836.1,866.9 837.2,868.9 838.3,866.2 839.4,869.3 840.5,867.3 841.6,870.0 842.7,870.0 843.8,867.4 844.9,866.3 846.0,869.2 847.1,865.8 848.2,865.6 849.3,865.7 850.4,865.3 851.5,868.4 852.6,865.9 853.8,865.7 854.9,869.2 856.0,869.3 857.1,869.2 858.2,869.5 859.3,865.6 860.4,865.5 861.5,867.7 862.6,864.1 863.7,866.7 864.8,864.1 865.9,867.3 867.0,868.1 868.1,864.6 869.2,864.6 870.3,868.2 871.4,867.9 872.5,864.5 873.7,864.9 874.8,867.5 875.9,866.8 877.0,866.3 878.1,865.1 879.2,863.4 880.3,866.5 881.4,865.4 882.5,866.0 883.6,868.5 884.7,869.2 885.8,870.5 886.9,871.1 888.0,873.9 889.1,874.8 890.2,871.5 891.3,875.2 892.4,874.8 893.6,872.8" fill="none" stroke="#ed1f24" stroke-width="4.2" stroke-linejoin="round" stroke-linecap="round"/><g fill="#111" stroke="#fff" stroke-width="0.5" font-family="'DejaVu Sans','Liberation Sans',sans-serif" font-weight="bold"><text transform="translate(85.4,114.3) scale(1.020,1)" font-size="16.5" text-anchor="end" >6.9</text><text transform="translate(85.4,175.8) scale(1.020,1)" font-size="16.5" text-anchor="end" >7</text><text transform="translate(85.4,237.3) scale(1.020,1)" font-size="16.5" text-anchor="end" >7.1</text><text transform="translate(85.4,298.6) scale(1.020,1)" font-size="16.5" text-anchor="end" >7.2</text><text transform="translate(85.4,360.0) scale(1.020,1)" font-size="16.5" text-anchor="end" >7.3</text><text transform="translate(85.4,421.4) scale(1.020,1)" font-size="16.5" text-anchor="end" >7.4</text><text transform="translate(85.4,482.8) scale(1.020,1)" font-size="16.5" text-anchor="end" >7.5</text><text transform="translate(85.4,544.2) scale(1.020,1)" font-size="16.5" text-anchor="end" >7.6</text><text transform="translate(85.4,605.6) scale(1.020,1)" font-size="16.5" text-anchor="end" >7.7</text><text transform="translate(85.4,667.0) scale(1.020,1)" font-size="16.5" text-anchor="end" >7.8</text><text transform="translate(85.4,728.4) scale(1.020,1)" font-size="16.5" text-anchor="end" >7.9</text><text transform="translate(965.3,80.1) scale(0.985,1)" font-size="16.5" text-anchor="start" stroke-width="0.1">0.06</text><text transform="translate(965.3,181.3) scale(0.985,1)" font-size="16.5" text-anchor="start" stroke-width="0.1">0.05</text><text transform="translate(965.3,282.6) scale(0.985,1)" font-size="16.5" text-anchor="start" stroke-width="0.1">0.04</text><text transform="translate(965.3,383.8) scale(0.985,1)" font-size="16.5" text-anchor="start" stroke-width="0.1">0.03</text><text transform="translate(965.3,484.9) scale(0.985,1)" font-size="16.5" text-anchor="start" stroke-width="0.1">0.02</text><text transform="translate(965.3,586.1) scale(0.985,1)" font-size="16.5" text-anchor="start" stroke-width="0.1">0.01</text><text transform="translate(965.3,687.3) scale(0.985,1)" font-size="16.5" text-anchor="start" stroke-width="0.1">0</text><text transform="translate(88.6,778.6) scale(1.090,1)" font-size="15.4" text-anchor="middle" >0</text><text transform="translate(234.6,778.6) scale(1.090,1)" font-size="15.4" text-anchor="middle" >100</text><text transform="translate(380.6,778.6) scale(1.090,1)" font-size="15.4" text-anchor="middle" >200</text><text transform="translate(526.6,778.6) scale(1.090,1)" font-size="15.4" text-anchor="middle" >300</text><text transform="translate(672.6,778.6) scale(1.090,1)" font-size="15.4" text-anchor="middle" >400</text><text transform="translate(818.6,778.6) scale(1.090,1)" font-size="15.4" text-anchor="middle" >500</text><text transform="translate(453.3,806.6) scale(1.078,1)" font-size="20.8" text-anchor="start" >Time [min.]</text><text transform="translate(453.3,1607.5) scale(1.078,1)" font-size="20.8" text-anchor="start" >Time [min.]</text><text transform="translate(52.3,43.9) scale(1.000,1)" font-size="53.5" text-anchor="start" >a</text><text transform="translate(50.8,843.4) scale(1.030,1)" font-size="53.5" text-anchor="start" >b</text><text transform="translate(108.3,1572.4) scale(1.170,1)" font-size="15.0" text-anchor="middle" >0</text><text transform="translate(246.5,1572.4) scale(1.170,1)" font-size="15.0" text-anchor="middle" >100</text><text transform="translate(384.7,1572.4) scale(1.170,1)" font-size="15.0" text-anchor="middle" >200</text><text transform="translate(522.9,1572.4) scale(1.170,1)" font-size="15.0" text-anchor="middle" >300</text><text transform="translate(661.1,1572.4) scale(1.170,1)" font-size="15.0" text-anchor="middle" >400</text><text transform="translate(799.3,1572.4) scale(1.170,1)" font-size="15.0" text-anchor="middle" >500</text><text transform="translate(83.4,1557.8) scale(1.030,1)" font-size="16.5" text-anchor="end" stroke-width="0.1">0</text><text transform="translate(83.4,1480.7) scale(1.030,1)" font-size="16.5" text-anchor="end" stroke-width="0.1">0.1</text><text transform="translate(83.4,1403.5) scale(1.030,1)" font-size="16.5" text-anchor="end" stroke-width="0.1">0.2</text><text transform="translate(83.4,1326.4) scale(1.030,1)" font-size="16.5" text-anchor="end" stroke-width="0.1">0.3</text><text transform="translate(83.4,1249.3) scale(1.030,1)" font-size="16.5" text-anchor="end" stroke-width="0.1">0.4</text><text transform="translate(83.4,1172.1) scale(1.030,1)" font-size="16.5" text-anchor="end" stroke-width="0.1">0.5</text><text transform="translate(83.4,1095.0) scale(1.030,1)" font-size="16.5" text-anchor="end" stroke-width="0.1">0.6</text><text transform="translate(83.4,1017.9) scale(1.030,1)" font-size="16.5" text-anchor="end" stroke-width="0.1">0.7</text><text transform="translate(83.4,940.8) scale(1.030,1)" font-size="16.5" text-anchor="end" stroke-width="0.1">0.8</text><text transform="translate(83.4,863.6) scale(1.030,1)" font-size="16.5" text-anchor="end" stroke-width="0.1">0.9</text></g><g fill="#111"><g transform="translate(53.3,556.0) rotate(-90)"><text x="0.2" y="0.0" font-size="27.2" textLength="97.0" lengthAdjust="spacingAndGlyphs" font-family="'Liberation Sans',sans-serif" font-weight="bold" stroke="#111" stroke-width="0.6">Projected</text><text x="105.0" y="2.0" font-size="32.0" textLength="9.6" lengthAdjust="spacingAndGlyphs" font-family="'Liberation Sans',sans-serif" font-weight="bold" stroke="#111" stroke-width="0.4">“</text><text x="115.4" y="0.0" font-size="27.2" textLength="32.2" lengthAdjust="spacingAndGlyphs" font-family="'Liberation Sans',sans-serif" font-weight="bold" stroke="#111" stroke-width="0.6">E-k</text><text x="148.4" y="5.3" font-size="21.7" textLength="9.0" lengthAdjust="spacingAndGlyphs" font-family="'Liberation Sans',sans-serif" font-weight="bold" stroke="#111" stroke-width="0.6">y</text><text x="159.0" y="2.0" font-size="32.0" textLength="9.6" lengthAdjust="spacingAndGlyphs" font-family="'Liberation Sans',sans-serif" font-weight="bold" stroke="#111" stroke-width="0.4">”</text><text x="175.6" y="0.0" font-size="27.2" textLength="57.6" lengthAdjust="spacingAndGlyphs" font-family="'Liberation Sans',sans-serif" font-weight="bold" stroke="#111" stroke-width="0.6">space</text><text x="241.1" y="0.0" font-size="27.2" textLength="40.2" lengthAdjust="spacingAndGlyphs" font-family="'Liberation Sans',sans-serif" font-weight="bold" stroke="#111" stroke-width="0.6">[µm</text><text x="280.4" y="-14.2" font-size="19.5" textLength="12.6" lengthAdjust="spacingAndGlyphs" font-family="'Liberation Sans',sans-serif" font-weight="bold" stroke="#111" stroke-width="0.6">-1</text><text x="293.8" y="0.0" font-size="27.2" textLength="7.0" lengthAdjust="spacingAndGlyphs" font-family="'Liberation Sans',sans-serif" font-weight="bold" stroke="#111" stroke-width="0.6">]</text></g><g transform="translate(53.3,1310.0) rotate(-90)"><text x="0.0" y="0.0" font-size="27.2" textLength="50.0" lengthAdjust="spacingAndGlyphs" font-family="'Liberation Sans',sans-serif" font-weight="bold" stroke="#111" stroke-width="0.6">Shift</text><text x="56.7" y="-6.3" font-size="32.0" textLength="10.4" lengthAdjust="spacingAndGlyphs" font-family="'Liberation Sans',sans-serif" font-weight="bold" stroke="#111" stroke-width="0.4">“</text><text x="70.0" y="0.2" font-size="40.4" textLength="19.6" lengthAdjust="spacingAndGlyphs" font-family="'Liberation Serif',serif">Δ</text><text x="91.6" y="10.7" font-size="28.5" textLength="40.6" lengthAdjust="spacingAndGlyphs" font-family="'Liberation Sans',sans-serif" font-weight="bold" stroke="#111" stroke-width="0.6">SPR</text><text x="131.9" y="-6.3" font-size="32.0" textLength="10.4" lengthAdjust="spacingAndGlyphs" font-family="'Liberation Sans',sans-serif" font-weight="bold" stroke="#111" stroke-width="0.4">”</text><text x="154.5" y="0.0" font-size="27.2" textLength="41.0" lengthAdjust="spacingAndGlyphs" font-family="'Liberation Sans',sans-serif" font-weight="bold" stroke="#111" stroke-width="0.6">[µm</text><text x="200.8" y="-11.4" font-size="20.0" textLength="15.2" lengthAdjust="spacingAndGlyphs" font-family="'Liberation Sans',sans-serif" font-weight="bold" stroke="#111" stroke-width="0.6">-1</text><text x="217.6" y="0.0" font-size="27.2" textLength="6.6" lengthAdjust="spacingAndGlyphs" font-family="'Liberation Sans',sans-serif" font-weight="bold" stroke="#111" stroke-width="0.6">]</text></g></g></svg></body></html>
